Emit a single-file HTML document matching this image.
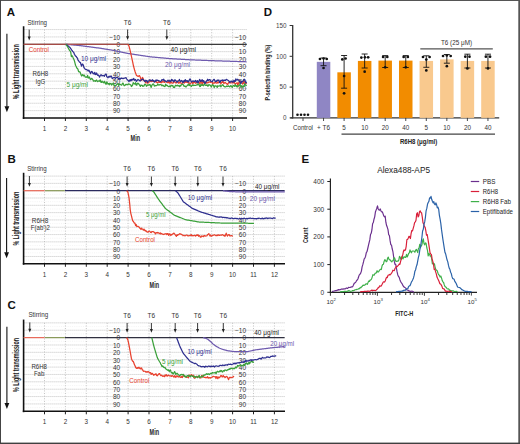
<!DOCTYPE html>
<html><head><meta charset="utf-8"><style>
html,body{margin:0;padding:0;background:#fff;}
svg{display:block;font-family:"Liberation Sans", sans-serif;}
</style></head><body>
<svg width="520" height="444" viewBox="0 0 520 444" font-family='"Liberation Sans", sans-serif'>
<rect x="0" y="0" width="520" height="444" fill="#fff"/>
<rect x="0" y="0" width="520" height="1" fill="#555"/>
<rect x="0" y="0" width="1" height="444" fill="#444"/>
<rect x="518.3" y="0" width="1.7" height="444" fill="#555"/>
<rect x="0" y="442.6" width="520" height="1.4" fill="#404040"/>
<text x="6.80" y="16.08" font-size="11.5" fill="#111" font-weight="bold">A</text>
<line x1="23.60" y1="29.56" x2="247.00" y2="29.56" stroke="#a8a8a8" stroke-width="0.7" stroke-dasharray="1 1"/>
<line x1="23.60" y1="36.93" x2="247.00" y2="36.93" stroke="#a8a8a8" stroke-width="0.7" stroke-dasharray="1 1"/>
<line x1="23.60" y1="44.30" x2="247.00" y2="44.30" stroke="#a8a8a8" stroke-width="0.7" stroke-dasharray="1 1"/>
<line x1="23.60" y1="51.67" x2="247.00" y2="51.67" stroke="#a8a8a8" stroke-width="0.7" stroke-dasharray="1 1"/>
<line x1="23.60" y1="59.04" x2="247.00" y2="59.04" stroke="#a8a8a8" stroke-width="0.7" stroke-dasharray="1 1"/>
<line x1="23.60" y1="66.41" x2="247.00" y2="66.41" stroke="#a8a8a8" stroke-width="0.7" stroke-dasharray="1 1"/>
<line x1="23.60" y1="73.78" x2="247.00" y2="73.78" stroke="#a8a8a8" stroke-width="0.7" stroke-dasharray="1 1"/>
<line x1="23.60" y1="81.15" x2="247.00" y2="81.15" stroke="#a8a8a8" stroke-width="0.7" stroke-dasharray="1 1"/>
<line x1="23.60" y1="88.52" x2="247.00" y2="88.52" stroke="#a8a8a8" stroke-width="0.7" stroke-dasharray="1 1"/>
<line x1="23.60" y1="95.89" x2="247.00" y2="95.89" stroke="#a8a8a8" stroke-width="0.7" stroke-dasharray="1 1"/>
<line x1="23.60" y1="103.26" x2="247.00" y2="103.26" stroke="#a8a8a8" stroke-width="0.7" stroke-dasharray="1 1"/>
<line x1="23.60" y1="110.63" x2="247.00" y2="110.63" stroke="#a8a8a8" stroke-width="0.7" stroke-dasharray="1 1"/>
<line x1="23.60" y1="33.24" x2="247.00" y2="33.24" stroke="#ececec" stroke-width="0.6" stroke-dasharray="1 1.2"/>
<line x1="23.60" y1="40.61" x2="247.00" y2="40.61" stroke="#ececec" stroke-width="0.6" stroke-dasharray="1 1.2"/>
<line x1="23.60" y1="47.98" x2="247.00" y2="47.98" stroke="#ececec" stroke-width="0.6" stroke-dasharray="1 1.2"/>
<line x1="23.60" y1="55.35" x2="247.00" y2="55.35" stroke="#ececec" stroke-width="0.6" stroke-dasharray="1 1.2"/>
<line x1="23.60" y1="62.72" x2="247.00" y2="62.72" stroke="#ececec" stroke-width="0.6" stroke-dasharray="1 1.2"/>
<line x1="23.60" y1="70.09" x2="247.00" y2="70.09" stroke="#ececec" stroke-width="0.6" stroke-dasharray="1 1.2"/>
<line x1="23.60" y1="77.47" x2="247.00" y2="77.47" stroke="#ececec" stroke-width="0.6" stroke-dasharray="1 1.2"/>
<line x1="23.60" y1="84.83" x2="247.00" y2="84.83" stroke="#ececec" stroke-width="0.6" stroke-dasharray="1 1.2"/>
<line x1="23.60" y1="92.20" x2="247.00" y2="92.20" stroke="#ececec" stroke-width="0.6" stroke-dasharray="1 1.2"/>
<line x1="23.60" y1="99.57" x2="247.00" y2="99.57" stroke="#ececec" stroke-width="0.6" stroke-dasharray="1 1.2"/>
<line x1="23.60" y1="106.94" x2="247.00" y2="106.94" stroke="#ececec" stroke-width="0.6" stroke-dasharray="1 1.2"/>
<line x1="23.60" y1="114.31" x2="247.00" y2="114.31" stroke="#ececec" stroke-width="0.6" stroke-dasharray="1 1.2"/>
<line x1="44.50" y1="29.56" x2="44.50" y2="118.00" stroke="#b4b4b4" stroke-width="0.8" stroke-dasharray="1 1.6"/>
<line x1="44.50" y1="118.00" x2="44.50" y2="121.00" stroke="#222" stroke-width="1"/>
<text x="44.50" y="130.74" font-size="6.3" fill="#333" text-anchor="middle">1</text>
<line x1="65.40" y1="29.56" x2="65.40" y2="118.00" stroke="#b4b4b4" stroke-width="0.8" stroke-dasharray="1 1.6"/>
<line x1="65.40" y1="118.00" x2="65.40" y2="121.00" stroke="#222" stroke-width="1"/>
<text x="65.40" y="130.74" font-size="6.3" fill="#333" text-anchor="middle">2</text>
<line x1="86.30" y1="29.56" x2="86.30" y2="118.00" stroke="#b4b4b4" stroke-width="0.8" stroke-dasharray="1 1.6"/>
<line x1="86.30" y1="118.00" x2="86.30" y2="121.00" stroke="#222" stroke-width="1"/>
<text x="86.30" y="130.74" font-size="6.3" fill="#333" text-anchor="middle">3</text>
<line x1="107.20" y1="29.56" x2="107.20" y2="118.00" stroke="#b4b4b4" stroke-width="0.8" stroke-dasharray="1 1.6"/>
<line x1="107.20" y1="118.00" x2="107.20" y2="121.00" stroke="#222" stroke-width="1"/>
<text x="107.20" y="130.74" font-size="6.3" fill="#333" text-anchor="middle">4</text>
<line x1="128.10" y1="29.56" x2="128.10" y2="118.00" stroke="#b4b4b4" stroke-width="0.8" stroke-dasharray="1 1.6"/>
<line x1="128.10" y1="118.00" x2="128.10" y2="121.00" stroke="#222" stroke-width="1"/>
<text x="128.10" y="130.74" font-size="6.3" fill="#333" text-anchor="middle">5</text>
<line x1="149.00" y1="29.56" x2="149.00" y2="118.00" stroke="#b4b4b4" stroke-width="0.8" stroke-dasharray="1 1.6"/>
<line x1="149.00" y1="118.00" x2="149.00" y2="121.00" stroke="#222" stroke-width="1"/>
<text x="149.00" y="130.74" font-size="6.3" fill="#333" text-anchor="middle">6</text>
<line x1="169.90" y1="29.56" x2="169.90" y2="118.00" stroke="#b4b4b4" stroke-width="0.8" stroke-dasharray="1 1.6"/>
<line x1="169.90" y1="118.00" x2="169.90" y2="121.00" stroke="#222" stroke-width="1"/>
<text x="169.90" y="130.74" font-size="6.3" fill="#333" text-anchor="middle">7</text>
<line x1="190.80" y1="29.56" x2="190.80" y2="118.00" stroke="#b4b4b4" stroke-width="0.8" stroke-dasharray="1 1.6"/>
<line x1="190.80" y1="118.00" x2="190.80" y2="121.00" stroke="#222" stroke-width="1"/>
<text x="190.80" y="130.74" font-size="6.3" fill="#333" text-anchor="middle">8</text>
<line x1="211.70" y1="29.56" x2="211.70" y2="118.00" stroke="#b4b4b4" stroke-width="0.8" stroke-dasharray="1 1.6"/>
<line x1="211.70" y1="118.00" x2="211.70" y2="121.00" stroke="#222" stroke-width="1"/>
<text x="211.70" y="130.74" font-size="6.3" fill="#333" text-anchor="middle">9</text>
<line x1="232.60" y1="29.56" x2="232.60" y2="118.00" stroke="#b4b4b4" stroke-width="0.8" stroke-dasharray="1 1.6"/>
<line x1="232.60" y1="118.00" x2="232.60" y2="121.00" stroke="#222" stroke-width="1"/>
<text x="232.60" y="130.74" font-size="6.3" fill="#333" text-anchor="middle">10</text>
<line x1="23.60" y1="26.26" x2="23.60" y2="118.90" stroke="#111" stroke-width="1.6"/>
<line x1="22.80" y1="118.00" x2="247.00" y2="118.00" stroke="#111" stroke-width="1.6"/>
<text x="120.20" y="39.74" font-size="6.5" fill="#333" text-anchor="end">&#8722;10</text>
<text x="246.00" y="39.74" font-size="6.5" fill="#333" text-anchor="end">&#8722;10</text>
<text x="120.20" y="47.11" font-size="6.5" fill="#333" text-anchor="end">0</text>
<text x="246.00" y="47.11" font-size="6.5" fill="#333" text-anchor="end">0</text>
<text x="120.20" y="54.48" font-size="6.5" fill="#333" text-anchor="end">10</text>
<text x="246.00" y="54.48" font-size="6.5" fill="#333" text-anchor="end">10</text>
<text x="120.20" y="61.85" font-size="6.5" fill="#333" text-anchor="end">20</text>
<text x="246.00" y="61.85" font-size="6.5" fill="#333" text-anchor="end">20</text>
<text x="120.20" y="69.22" font-size="6.5" fill="#333" text-anchor="end">30</text>
<text x="246.00" y="69.22" font-size="6.5" fill="#333" text-anchor="end">30</text>
<text x="120.20" y="76.59" font-size="6.5" fill="#333" text-anchor="end">40</text>
<text x="246.00" y="76.59" font-size="6.5" fill="#333" text-anchor="end">40</text>
<text x="120.20" y="83.96" font-size="6.5" fill="#333" text-anchor="end">50</text>
<text x="246.00" y="83.96" font-size="6.5" fill="#333" text-anchor="end">50</text>
<text x="120.20" y="91.33" font-size="6.5" fill="#333" text-anchor="end">60</text>
<text x="246.00" y="91.33" font-size="6.5" fill="#333" text-anchor="end">60</text>
<text x="120.20" y="98.70" font-size="6.5" fill="#333" text-anchor="end">70</text>
<text x="246.00" y="98.70" font-size="6.5" fill="#333" text-anchor="end">70</text>
<text x="120.20" y="106.07" font-size="6.5" fill="#333" text-anchor="end">80</text>
<text x="246.00" y="106.07" font-size="6.5" fill="#333" text-anchor="end">80</text>
<text x="120.20" y="113.44" font-size="6.5" fill="#333" text-anchor="end">90</text>
<text x="246.00" y="113.44" font-size="6.5" fill="#333" text-anchor="end">90</text>
<text x="27.50" y="24.84" font-size="6.3" fill="#333" textLength="19.5" lengthAdjust="spacingAndGlyphs">Stirring</text>
<line x1="29.20" y1="29.60" x2="29.20" y2="37.10" stroke="#222" stroke-width="0.9"/>
<polygon points="27.70,36.60 30.70,36.60 29.20,40.40" fill="#222"/>
<text x="127.60" y="24.91" font-size="6.5" fill="#333" text-anchor="middle">T6</text>
<line x1="127.60" y1="29.50" x2="127.60" y2="36.70" stroke="#222" stroke-width="0.9"/>
<polygon points="126.10,36.20 129.10,36.20 127.60,40.00" fill="#222"/>
<text x="166.80" y="24.91" font-size="6.5" fill="#333" text-anchor="middle">T6</text>
<line x1="166.80" y1="29.50" x2="166.80" y2="36.70" stroke="#222" stroke-width="0.9"/>
<polygon points="165.30,36.20 168.30,36.20 166.80,40.00" fill="#222"/>
<line x1="6.90" y1="33.70" x2="6.90" y2="106.70" stroke="#111" stroke-width="1.1"/>
<polygon points="4.50,106.20 9.30,106.20 6.90,112.20" fill="#111"/>
<text x="0" y="3.05" font-size="8.6" fill="#222" text-anchor="middle" font-weight="bold" textLength="55" lengthAdjust="spacingAndGlyphs" transform="translate(16.0,71.8) rotate(-90)">% Light transmission</text>
<polyline points="23.60,44.30 24.20,44.30 24.80,44.30 25.40,44.30 26.00,44.30 26.60,44.30 27.20,44.30 27.80,44.30 28.40,44.30 29.00,44.30 29.60,44.30 30.20,44.30 30.80,44.30 31.40,44.30 32.00,44.30 32.60,44.30 33.20,44.30 33.80,44.30 34.40,44.30 35.00,44.30 35.60,44.30 36.20,44.30 36.80,44.30 37.40,44.30 38.00,44.30 38.60,44.30 39.20,44.30 39.80,44.30 40.40,44.30 41.00,44.30 41.60,44.30 42.20,44.30 42.80,44.30 43.40,44.30 44.00,44.30 44.60,44.30 45.20,44.30 45.80,44.30 46.40,44.30 47.00,44.30 47.60,44.30 48.20,44.30 48.80,44.30 49.40,44.30 50.00,44.30 50.60,44.30 51.20,44.30 51.80,44.30 52.40,44.30 53.00,44.30 53.60,44.30 54.20,44.30 54.80,44.30 55.40,44.30 56.00,44.30 56.60,44.30 57.20,44.30 57.80,44.30 58.40,44.30 59.00,44.30 59.60,44.30 60.20,44.30 60.80,44.30 61.40,44.30 62.00,44.30 62.60,44.30 63.20,44.30 63.80,44.30 64.40,44.30 65.00,44.30 65.60,44.30 66.20,44.30 66.80,44.30 67.40,44.30 68.00,44.30 68.60,44.30 69.20,44.30 69.80,44.30 70.40,44.30 71.00,44.30 71.60,44.30 72.20,44.30 72.80,44.30 73.40,44.30 74.00,44.30 74.60,44.30 75.20,44.30 75.80,44.30 76.40,44.30 77.00,44.30 77.60,44.30 78.20,44.30 78.80,44.30 79.40,44.30 80.00,44.30 80.60,44.30 81.20,44.30 81.80,44.30 82.40,44.30 83.00,44.30 83.60,44.30 84.20,44.30 84.80,44.30 85.40,44.30 86.00,44.30 86.60,44.30 87.20,44.30 87.80,44.30 88.40,44.30 89.00,44.30 89.60,44.30 90.20,44.30 90.80,44.30 91.40,44.30 92.00,44.30 92.60,44.30 93.20,44.30 93.80,44.30 94.40,44.30 95.00,44.30 95.60,44.30 96.20,44.30 96.80,44.30 97.40,44.30 98.00,44.30 98.60,44.30 99.20,44.30 99.80,44.30 100.40,44.30 101.00,44.30 101.60,44.30 102.20,44.30 102.80,44.30 103.40,44.30 104.00,44.30 104.60,44.30 105.20,44.30 105.80,44.30 106.40,44.30 107.00,44.30 107.60,44.30 108.20,44.30 108.80,44.30 109.40,44.30 110.00,44.30 110.60,44.30 111.20,44.30 111.80,44.30 112.40,44.30 113.00,44.30 113.60,44.30 114.20,44.30 114.80,44.30 115.40,44.30 116.00,44.30 116.60,44.30 117.20,44.30 117.80,44.30 118.40,44.30 119.00,44.30 119.60,44.30 120.20,44.30 120.80,44.30 121.40,44.30 122.00,44.30 122.60,44.30 123.20,44.30 123.80,44.30 124.40,44.30 125.00,44.30 125.60,44.30 126.20,44.30 126.80,44.30 127.40,44.30 128.00,44.30 128.60,44.30 129.20,44.30 129.80,44.30 130.40,44.30 131.00,44.30 131.60,44.30 132.20,44.30 132.80,44.30 133.40,44.30 134.00,44.30 134.60,44.30 135.20,44.30 135.80,44.30 136.40,44.30 137.00,44.30 137.60,44.30 138.20,44.30 138.80,44.30 139.40,44.30 140.00,44.30 140.60,44.30 141.20,44.30 141.80,44.30 142.40,44.30 143.00,44.30 143.60,44.30 144.20,44.30 144.80,44.30 145.40,44.30 146.00,44.30 146.60,44.30 147.20,44.30 147.80,44.30 148.40,44.30 149.00,44.30 149.60,44.30 150.20,44.30 150.80,44.30 151.40,44.30 152.00,44.30 152.60,44.30 153.20,44.30 153.80,44.30 154.40,44.30 155.00,44.30 155.60,44.30 156.20,44.30 156.80,44.30 157.40,44.30 158.00,44.30 158.60,44.30 159.20,44.30 159.80,44.30 160.40,44.30 161.00,44.30 161.60,44.30 162.20,44.30 162.80,44.30 163.40,44.30 164.00,44.30 164.60,44.30 165.20,44.30 165.80,44.30 166.40,44.30 167.00,44.30 167.60,44.30 168.20,44.30 168.80,44.30 169.40,44.30 170.00,44.30 170.60,44.30 171.20,44.30 171.80,44.30 172.40,44.30 173.00,44.30 173.60,44.30 174.20,44.30 174.80,44.30 175.40,44.30 176.00,44.30 176.60,44.30 177.20,44.30 177.80,44.30 178.40,44.30 179.00,44.30 179.60,44.30 180.20,44.30 180.80,44.30 181.40,44.30 182.00,44.30 182.60,44.30 183.20,44.30 183.80,44.30 184.40,44.30 185.00,44.30 185.60,44.30 186.20,44.30 186.80,44.30 187.40,44.30 188.00,44.30 188.60,44.30 189.20,44.30 189.80,44.30 190.40,44.30 191.00,44.30 191.60,44.30 192.20,44.30 192.80,44.30 193.40,44.30 194.00,44.30 194.60,44.30 195.20,44.30 195.80,44.30 196.40,44.30 197.00,44.30 197.60,44.30 198.20,44.30 198.80,44.30 199.40,44.30 200.00,44.30 200.60,44.30 201.20,44.30 201.80,44.30 202.40,44.30 203.00,44.30 203.60,44.30 204.20,44.30 204.80,44.30 205.40,44.30 206.00,44.30 206.60,44.30 207.20,44.30 207.80,44.30 208.40,44.30 209.00,44.30 209.60,44.30 210.20,44.30 210.80,44.30 211.40,44.30 212.00,44.30 212.60,44.30 213.20,44.30 213.80,44.30 214.40,44.30 215.00,44.30 215.60,44.30 216.20,44.30 216.80,44.30 217.40,44.30 218.00,44.30 218.60,44.30 219.20,44.30 219.80,44.30 220.40,44.30 221.00,44.30 221.60,44.30 222.20,44.30 222.80,44.30 223.40,44.30 224.00,44.30 224.60,44.30 225.20,44.30 225.80,44.30 226.40,44.30 227.00,44.30 227.60,44.30 228.20,44.30 228.80,44.30 229.40,44.30 230.00,44.30 230.60,44.30 231.20,44.30 231.80,44.30 232.40,44.30 233.00,44.30 233.60,44.30 234.20,44.30 234.80,44.30 235.40,44.30 236.00,44.30 236.60,44.30 237.20,44.30 237.80,44.30 238.40,44.30 239.00,44.30 239.60,44.30 240.20,44.30 240.80,44.30 241.40,44.30 242.00,44.30 242.60,44.30 243.20,44.30 243.80,44.30 244.40,44.30 245.00,44.30 245.60,44.30 246.20,44.30 246.80,44.30" fill="none" stroke="#3a3a3a" stroke-width="1.2" stroke-linejoin="round"/>
<polyline points="66.00,44.30 66.60,44.36 67.20,44.41 67.80,44.47 68.40,44.52 69.00,44.58 69.60,44.63 70.20,44.69 70.80,44.75 71.40,44.80 72.00,44.86 72.60,44.91 73.20,44.97 73.80,45.02 74.40,45.08 75.00,45.14 75.60,45.19 76.20,45.25 76.80,45.30 77.40,45.36 78.00,45.41 78.60,45.47 79.20,45.53 79.80,45.58 80.40,45.65 81.00,45.73 81.60,45.81 82.20,45.89 82.80,45.96 83.40,46.04 84.00,46.12 84.60,46.20 85.20,46.28 85.80,46.35 86.40,46.43 87.00,46.51 87.60,46.59 88.20,46.67 88.80,46.74 89.40,46.82 90.00,46.90 90.60,46.98 91.20,47.06 91.80,47.13 92.40,47.21 93.00,47.29 93.60,47.37 94.20,47.45 94.80,47.52 95.40,47.60 96.00,47.68 96.60,47.76 97.20,47.84 97.80,47.91 98.40,47.99 99.00,48.07 99.60,48.15 100.20,48.23 100.80,48.33 101.40,48.43 102.00,48.53 102.60,48.62 103.20,48.72 103.80,48.82 104.40,48.92 105.00,49.01 105.60,49.11 106.20,49.21 106.80,49.31 107.40,49.41 108.00,49.50 108.60,49.60 109.20,49.70 109.80,49.80 110.40,49.89 111.00,49.99 111.60,50.09 112.20,50.19 112.80,50.29 113.40,50.38 114.00,50.51 114.60,50.64 115.20,50.77 115.80,50.89 116.40,51.02 117.00,51.15 117.60,51.28 118.20,51.41 118.80,51.54 119.40,51.67 120.00,51.80 120.60,51.93 121.20,52.05 121.80,52.18 122.40,52.31 123.00,52.44 123.60,52.57 124.20,52.70 124.80,52.83 125.40,52.96 126.00,53.09 126.60,53.21 127.20,53.33 127.80,53.42 128.40,53.51 129.00,53.60 129.60,53.70 130.20,53.79 130.80,53.88 131.40,53.97 132.00,54.06 132.60,54.15 133.20,54.24 133.80,54.33 134.40,54.43 135.00,54.52 135.60,54.61 136.20,54.70 136.80,54.79 137.40,54.88 138.00,54.97 138.60,55.07 139.20,55.16 139.80,55.25 140.40,55.34 141.00,55.43 141.60,55.52 142.20,55.61 142.80,55.70 143.40,55.80 144.00,55.89 144.60,55.98 145.20,56.07 145.80,56.16 146.40,56.25 147.00,56.34 147.60,56.43 148.20,56.53 148.80,56.62 149.40,56.71 150.00,56.80 150.60,56.85 151.20,56.91 151.80,56.96 152.40,57.02 153.00,57.07 153.60,57.12 154.20,57.18 154.80,57.23 155.40,57.29 156.00,57.34 156.60,57.39 157.20,57.45 157.80,57.50 158.40,57.56 159.00,57.61 159.60,57.66 160.20,57.72 160.80,57.77 161.40,57.83 162.00,57.88 162.60,57.93 163.20,57.99 163.80,58.04 164.40,58.10 165.00,58.15 165.60,58.20 166.20,58.26 166.80,58.31 167.40,58.37 168.00,58.42 168.60,58.47 169.20,58.53 169.80,58.58 170.40,58.62 171.00,58.66 171.60,58.70 172.20,58.73 172.80,58.77 173.40,58.80 174.00,58.84 174.60,58.88 175.20,58.91 175.80,58.95 176.40,58.98 177.00,59.02 177.60,59.06 178.20,59.09 178.80,59.13 179.40,59.16 180.00,59.20 180.60,59.24 181.20,59.27 181.80,59.31 182.40,59.34 183.00,59.38 183.60,59.42 184.20,59.45 184.80,59.49 185.40,59.52 186.00,59.56 186.60,59.60 187.20,59.63 187.80,59.67 188.40,59.70 189.00,59.74 189.60,59.78 190.20,59.81 190.80,59.83 191.40,59.86 192.00,59.88 192.60,59.90 193.20,59.93 193.80,59.95 194.40,59.98 195.00,60.00 195.60,60.02 196.20,60.05 196.80,60.07 197.40,60.10 198.00,60.12 198.60,60.14 199.20,60.17 199.80,60.19 200.40,60.22 201.00,60.24 201.60,60.26 202.20,60.29 202.80,60.31 203.40,60.34 204.00,60.36 204.60,60.38 205.20,60.41 205.80,60.43 206.40,60.46 207.00,60.48 207.60,60.50 208.20,60.53 208.80,60.55 209.40,60.58 210.00,60.60 210.60,60.62 211.20,60.64 211.80,60.66 212.40,60.68 213.00,60.70 213.60,60.72 214.20,60.74 214.80,60.76 215.40,60.78 216.00,60.79 216.60,60.81 217.20,60.83 217.80,60.85 218.40,60.87 219.00,60.89 219.60,60.91 220.20,60.93 220.80,60.95 221.40,60.97 222.00,60.99 222.60,61.01 223.20,61.03 223.80,61.05 224.40,61.07 225.00,61.09 225.60,61.11 226.20,61.13 226.80,61.14 227.40,61.16 228.00,61.18 228.60,61.20 229.20,61.22 229.80,61.24 230.40,61.26 231.00,61.28 231.60,61.30 232.20,61.32 232.80,61.34 233.40,61.36 234.00,61.38 234.60,61.40 235.20,61.42 235.80,61.44 236.40,61.46 237.00,61.48 237.60,61.50 238.20,61.51 238.80,61.53 239.40,61.55 240.00,61.57 240.60,61.59 241.20,61.61 241.80,61.63 242.40,61.65 243.00,61.67 243.60,61.69 244.20,61.71 244.80,61.73 245.40,61.75 246.00,61.77 246.60,61.79" fill="none" stroke="#6e5aae" stroke-width="1.25" stroke-linejoin="round"/>
<polyline points="23.60,44.30 24.20,44.30 24.80,44.30 25.40,44.30 26.00,44.30 26.60,44.30 27.20,44.30 27.80,44.30 28.40,44.30 29.00,44.30 29.60,44.30 30.20,44.30 30.80,44.30 31.40,44.30 32.00,44.30 32.60,44.30 33.20,44.30 33.80,44.30 34.40,44.30 35.00,44.30 35.60,44.30 36.20,44.30 36.80,44.30 37.40,44.30 38.00,44.30 38.60,44.30 39.20,44.30 39.80,44.30 40.40,44.30 41.00,44.30 41.60,44.30 42.20,44.30 42.80,44.30 43.40,44.30 44.00,44.30 44.60,44.30 45.20,44.30 45.80,44.30 46.40,44.30 47.00,44.30 47.60,44.30 48.20,44.30 48.80,44.30 49.40,44.30 50.00,44.30 50.60,44.30 51.20,44.30 51.80,44.30 52.40,44.30 53.00,44.30 53.60,44.30 54.20,44.30 54.80,44.30 55.40,44.30 56.00,44.30 56.60,44.30 57.20,44.30 57.80,44.30 58.40,44.30 59.00,44.30 59.60,44.30 60.20,44.30 60.80,44.30 61.40,44.30 62.00,44.30 62.60,44.30 63.20,44.30 63.80,44.30 64.40,44.30 65.00,44.30 65.60,44.30 66.20,44.30 66.80,44.30 67.40,44.30 68.00,44.30 68.60,44.30 69.20,44.30 69.80,44.30 70.40,44.30 71.00,44.30 71.60,44.30 72.20,44.30 72.80,44.30 73.40,44.30 74.00,44.30 74.60,44.30 75.20,44.30 75.80,44.30 76.40,44.30 77.00,44.30 77.60,44.30 78.20,44.30 78.80,44.30 79.40,44.30 80.00,44.30 80.60,44.30 81.20,44.30 81.80,44.30 82.40,44.30 83.00,44.30 83.60,44.30 84.20,44.30 84.80,44.30 85.40,44.30 86.00,44.30 86.60,44.30 87.20,44.30 87.80,44.30 88.40,44.30 89.00,44.30 89.60,44.30 90.20,44.30 90.80,44.30 91.40,44.30 92.00,44.30 92.60,44.30 93.20,44.30 93.80,44.30 94.40,44.30 95.00,44.30 95.60,44.30 96.20,44.30 96.80,44.30 97.40,44.30 98.00,44.30 98.60,44.30 99.20,44.30 99.80,44.30 100.40,44.30 101.00,44.30 101.60,44.30 102.20,44.30 102.80,44.30 103.40,44.30 104.00,44.30 104.60,44.30 105.20,44.30 105.80,44.30 106.40,44.30 107.00,44.30 107.60,44.30 108.20,44.30 108.80,44.30 109.40,44.30 110.00,44.30 110.60,44.30 111.20,44.30 111.80,44.30 112.40,44.30 113.00,44.30 113.60,44.30 114.20,44.30 114.80,44.30 115.40,44.30 116.00,44.30 116.60,44.30 117.20,44.30 117.80,44.30 118.40,44.30 119.00,44.30 119.60,44.30 120.20,44.30 120.80,44.30 121.40,44.30 122.00,44.30 122.60,44.30 123.20,44.30 123.80,44.30 124.40,44.30 125.00,44.30 125.60,44.30 126.20,44.30 126.80,44.30 127.40,44.30 128.00,44.30" fill="none" stroke="#c8504a" stroke-width="1.125" stroke-linejoin="round"/>
<polyline points="128.00,44.30 128.60,45.32 129.20,46.80 129.80,49.20 130.40,51.60 131.00,54.33 131.60,57.13 132.20,59.93 132.80,62.73 133.40,65.53 134.00,67.83 134.60,70.03 135.20,72.03 135.80,73.63 136.40,75.23 137.00,75.83 137.60,76.23 138.20,76.37 138.80,75.97 139.40,75.57 140.00,76.67 140.60,78.07 141.20,80.34 141.80,80.09 142.40,77.44 143.00,78.14 143.60,80.06 144.20,80.65 144.80,81.52 145.40,82.12 146.00,83.16 146.60,80.94 147.20,81.44 147.80,83.38 148.40,82.67 149.00,82.24 149.60,81.07 150.20,80.26 150.80,81.60 151.40,81.66 152.00,80.65 152.60,81.00 153.20,81.47 153.80,81.03 154.40,81.64 155.00,81.97 155.60,81.88 156.20,81.64 156.80,82.54 157.40,82.91 158.00,82.30 158.60,81.55 159.20,82.45 159.80,81.96 160.40,82.57 161.00,81.56 161.60,82.74 162.20,82.11 162.80,81.10 163.40,81.76 164.00,82.30 164.60,82.35 165.20,81.33 165.80,81.26 166.40,82.24 167.00,82.07 167.60,82.65 168.20,82.81 168.80,81.25 169.40,82.61 170.00,83.52 170.60,82.33 171.20,81.91 171.80,83.04 172.40,83.03 173.00,83.26 173.60,82.13 174.20,81.20 174.80,82.09 175.40,82.28 176.00,83.14 176.60,82.55 177.20,81.00 177.80,81.41 178.40,83.20 179.00,83.17 179.60,82.15 180.20,82.53 180.80,83.03 181.40,83.21 182.00,83.44 182.60,82.94 183.20,82.51 183.80,82.55 184.40,83.03 185.00,80.87 185.60,82.09 186.20,82.35 186.80,81.48 187.40,82.52 188.00,82.28 188.60,83.21 189.20,82.79 189.80,83.39 190.40,83.85 191.00,83.02 191.60,81.70 192.20,81.53 192.80,83.83 193.40,82.75 194.00,82.08 194.60,82.62 195.20,82.68 195.80,83.35 196.40,82.86 197.00,82.56 197.60,82.17 198.20,82.76 198.80,82.02 199.40,83.34 200.00,83.82 200.60,81.25 201.20,80.47 201.80,83.24 202.40,84.78 203.00,82.11 203.60,81.59 204.20,82.84 204.80,82.03 205.40,82.09 206.00,82.45 206.60,83.05 207.20,82.55 207.80,82.87 208.40,82.50 209.00,81.95 209.60,82.17 210.20,81.91 210.80,82.40 211.40,81.63 212.00,81.91 212.60,83.79 213.20,82.99 213.80,82.82 214.40,83.13 215.00,82.49 215.60,82.60 216.20,83.17 216.80,82.91 217.40,82.03 218.00,83.20 218.60,82.28 219.20,81.66 219.80,81.81 220.40,82.63 221.00,83.92 221.60,82.17 222.20,82.38 222.80,81.08 223.40,82.62 224.00,83.56 224.60,82.70 225.20,82.33 225.80,83.07 226.40,83.62 227.00,83.91 227.60,84.69 228.20,83.30 228.80,82.40 229.40,82.66 230.00,82.83 230.60,82.97 231.20,82.92 231.80,82.74 232.40,81.68 233.00,83.20 233.60,82.37 234.20,81.94 234.80,83.48 235.40,84.23 236.00,83.61 236.60,82.99 237.20,82.70 237.80,85.34 238.40,84.00 239.00,82.01 239.60,82.11 240.20,82.61 240.80,81.70 241.40,82.74 242.00,82.83 242.60,84.09 243.20,83.52 243.80,80.88 244.40,82.24 245.00,81.84 245.60,83.66 246.20,83.43 246.80,83.49" fill="none" stroke="#e8422f" stroke-width="1.25" stroke-linejoin="round"/>
<polyline points="66.00,44.30 66.60,44.78 67.20,45.26 67.80,45.74 68.40,46.22 69.00,46.70 69.60,47.18 70.20,47.80 70.80,48.70 71.40,49.60 72.00,50.50 72.60,51.26 73.20,51.83 73.80,52.56 74.40,54.32 75.00,55.10 75.60,56.23 76.20,56.41 76.80,57.54 77.40,58.02 78.00,60.08 78.60,60.77 79.20,61.66 79.80,62.32 80.40,62.29 81.00,64.60 81.60,66.15 82.20,64.08 82.80,64.21 83.40,65.39 84.00,67.74 84.60,68.21 85.20,69.29 85.80,69.54 86.40,69.53 87.00,69.89 87.60,70.18 88.20,71.08 88.80,70.19 89.40,71.01 90.00,72.45 90.60,73.60 91.20,71.85 91.80,71.39 92.40,72.23 93.00,73.57 93.60,73.30 94.20,73.99 94.80,72.31 95.40,74.42 96.00,74.62 96.60,73.00 97.20,74.25 97.80,75.40 98.40,74.99 99.00,75.98 99.60,77.10 100.20,75.67 100.80,74.91 101.40,74.79 102.00,75.85 102.60,75.51 103.20,75.49 103.80,75.80 104.40,76.25 105.00,74.97 105.60,74.21 106.20,74.13 106.80,76.93 107.40,77.00 108.00,77.84 108.60,76.80 109.20,76.24 109.80,77.14 110.40,76.79 111.00,75.87 111.60,76.56 112.20,78.70 112.80,78.11 113.40,77.90 114.00,77.36 114.60,77.28 115.20,78.46 115.80,77.90 116.40,77.36 117.00,77.70 117.60,77.43 118.20,78.45 118.80,79.15 119.40,78.14 120.00,79.38 120.60,78.24 121.20,78.44 121.80,77.94 122.40,78.39 123.00,78.71 123.60,78.37 124.20,78.13 124.80,78.15 125.40,77.96 126.00,77.61 126.60,78.76 127.20,79.71 127.80,80.28 128.40,80.54 129.00,81.70 129.60,80.16 130.20,79.61 130.80,80.97 131.40,79.36 132.00,80.25 132.60,79.27 133.20,79.64 133.80,78.47 134.40,80.31 135.00,79.82 135.60,79.46 136.20,81.41 136.80,81.02 137.40,80.14 138.00,79.51 138.60,79.97 139.20,80.18 139.80,80.96 140.40,80.95 141.00,79.78 141.60,79.66 142.20,79.58 142.80,79.06 143.40,79.68 144.00,80.41 144.60,81.30 145.20,81.62 145.80,80.22 146.40,80.84 147.00,80.73 147.60,82.32 148.20,81.12 148.80,80.98 149.40,79.92 150.00,79.99 150.60,80.76 151.20,80.58 151.80,80.75 152.40,79.68 153.00,80.93 153.60,80.49 154.20,82.05 154.80,81.09 155.40,81.44 156.00,79.93 156.60,80.78 157.20,80.07 157.80,80.27 158.40,80.71 159.00,80.62 159.60,81.14 160.20,81.64 160.80,81.51 161.40,80.65 162.00,79.54 162.60,79.90 163.20,80.16 163.80,79.17 164.40,81.07 165.00,80.75 165.60,80.78 166.20,81.74 166.80,81.64 167.40,81.00 168.00,80.13 168.60,81.02 169.20,81.07 169.80,80.39 170.40,81.69 171.00,81.15 171.60,79.35 172.20,80.41 172.80,80.06 173.40,81.77 174.00,81.58 174.60,79.96 175.20,79.98 175.80,80.79 176.40,81.00 177.00,82.28 177.60,81.76 178.20,80.92 178.80,80.99 179.40,79.37 180.00,80.97 180.60,81.68 181.20,80.81 181.80,80.40 182.40,81.63 183.00,82.72 183.60,81.26 184.20,80.30 184.80,81.62 185.40,79.72 186.00,80.93 186.60,80.72 187.20,81.48 187.80,80.65 188.40,81.97 189.00,81.14 189.60,79.21 190.20,78.94 190.80,80.58 191.40,82.02 192.00,81.32 192.60,81.01 193.20,80.92 193.80,81.63 194.40,81.48 195.00,81.11 195.60,80.43 196.20,82.06 196.80,82.12 197.40,80.56 198.00,82.83 198.60,81.93 199.20,80.38 199.80,79.44 200.40,81.32 201.00,81.49 201.60,80.29 202.20,79.61 202.80,81.53 203.40,80.64 204.00,81.03 204.60,83.71 205.20,83.50 205.80,82.13 206.40,80.94 207.00,81.09 207.60,79.26 208.20,80.58 208.80,80.19 209.40,79.54 210.00,79.58 210.60,81.22 211.20,81.25 211.80,81.36 212.40,81.64 213.00,80.28 213.60,79.55 214.20,79.29 214.80,80.60 215.40,81.62 216.00,81.20 216.60,81.37 217.20,80.12 217.80,80.34 218.40,80.13 219.00,80.23 219.60,82.58 220.20,82.00 220.80,80.47 221.40,80.30 222.00,80.65 222.60,79.96 223.20,80.98 223.80,80.03 224.40,80.38 225.00,80.10 225.60,80.28 226.20,79.63 226.80,79.38 227.40,79.90 228.00,80.32 228.60,80.77 229.20,81.41 229.80,82.57 230.40,82.04 231.00,81.20 231.60,81.58 232.20,80.95 232.80,82.33 233.40,81.62 234.00,80.24 234.60,81.69 235.20,81.49 235.80,78.91 236.40,79.96 237.00,80.28 237.60,79.26 238.20,79.75 238.80,80.27 239.40,81.48 240.00,81.99 240.60,83.36 241.20,81.53 241.80,82.09 242.40,81.50 243.00,81.22 243.60,79.92 244.20,79.24 244.80,80.34 245.40,81.98 246.00,82.77 246.60,81.99" fill="none" stroke="#2e2f8f" stroke-width="1.25" stroke-linejoin="round"/>
<polyline points="66.00,44.30 66.60,45.26 67.20,46.22 67.80,47.18 68.40,48.25 69.00,49.37 69.60,50.50 70.20,50.91 70.80,52.58 71.40,56.55 72.00,55.72 72.60,56.40 73.20,57.99 73.80,59.31 74.40,60.74 75.00,63.09 75.60,65.52 76.20,66.49 76.80,68.10 77.40,68.33 78.00,69.53 78.60,71.62 79.20,71.81 79.80,71.75 80.40,72.91 81.00,74.77 81.60,75.99 82.20,74.72 82.80,74.89 83.40,75.92 84.00,74.98 84.60,75.67 85.20,77.03 85.80,77.22 86.40,77.18 87.00,77.27 87.60,75.45 88.20,78.02 88.80,77.24 89.40,76.96 90.00,78.86 90.60,79.53 91.20,78.71 91.80,78.35 92.40,79.32 93.00,79.89 93.60,81.16 94.20,80.95 94.80,80.71 95.40,81.32 96.00,80.42 96.60,80.03 97.20,81.34 97.80,81.65 98.40,81.05 99.00,80.79 99.60,81.22 100.20,79.87 100.80,82.19 101.40,82.39 102.00,81.05 102.60,82.08 103.20,82.01 103.80,82.95 104.40,81.29 105.00,82.20 105.60,84.02 106.20,84.23 106.80,81.89 107.40,82.90 108.00,83.79 108.60,83.61 109.20,84.85 109.80,83.26 110.40,83.87 111.00,83.47 111.60,85.09 112.20,84.33 112.80,83.60 113.40,83.09 114.00,85.60 114.60,85.49 115.20,85.46 115.80,85.70 116.40,85.00 117.00,84.06 117.60,83.81 118.20,84.24 118.80,85.62 119.40,83.85 120.00,84.18 120.60,84.61 121.20,85.13 121.80,85.15 122.40,83.54 123.00,83.07 123.60,84.60 124.20,85.80 124.80,85.49 125.40,84.81 126.00,84.33 126.60,84.60 127.20,84.40 127.80,84.85 128.40,83.80 129.00,84.20 129.60,84.23 130.20,84.63 130.80,84.85 131.40,86.50 132.00,85.99 132.60,85.20 133.20,82.58 133.80,83.37 134.40,83.70 135.00,84.14 135.60,82.65 136.20,85.07 136.80,85.22 137.40,83.31 138.00,83.23 138.60,83.64 139.20,84.53 139.80,85.48 140.40,86.41 141.00,84.99 141.60,85.33 142.20,85.32 142.80,86.42 143.40,86.01 144.00,85.96 144.60,84.22 145.20,84.45 145.80,84.55 146.40,86.28 147.00,85.85 147.60,84.91 148.20,84.82 148.80,85.41 149.40,84.59 150.00,84.48 150.60,85.98 151.20,87.42 151.80,85.45 152.40,84.59 153.00,83.99 153.60,84.08 154.20,85.68 154.80,86.14 155.40,85.55 156.00,85.63 156.60,85.52 157.20,85.20 157.80,84.00 158.40,84.70 159.00,85.22 159.60,84.63 160.20,84.66 160.80,84.52 161.40,85.08 162.00,85.95 162.60,85.15 163.20,85.31 163.80,86.14 164.40,86.37 165.00,86.54 165.60,84.08 166.20,85.64 166.80,85.16 167.40,85.57 168.00,86.32 168.60,86.64 169.20,86.49 169.80,86.01 170.40,86.73 171.00,85.43 171.60,85.39 172.20,85.96 172.80,85.49 173.40,87.32 174.00,87.06 174.60,87.43 175.20,85.73 175.80,85.14 176.40,85.64 177.00,85.98 177.60,85.15 178.20,85.66 178.80,85.79 179.40,86.69 180.00,85.38 180.60,86.10 181.20,84.94 181.80,84.41 182.40,84.48 183.00,84.37 183.60,85.57 184.20,86.40 184.80,85.92 185.40,86.33 186.00,87.02 186.60,86.04 187.20,85.65 187.80,85.01 188.40,84.23 189.00,85.53 189.60,84.28 190.20,85.74 190.80,85.82 191.40,86.45 192.00,85.51 192.60,84.88 193.20,85.57 193.80,85.09 194.40,85.28 195.00,85.51 195.60,85.40 196.20,85.21 196.80,84.77 197.40,84.85 198.00,83.69 198.60,84.82 199.20,84.72 199.80,86.51 200.40,86.48 201.00,84.18 201.60,85.31 202.20,85.30 202.80,84.77 203.40,85.75 204.00,84.97 204.60,83.97 205.20,85.02 205.80,85.43 206.40,85.43 207.00,84.69 207.60,86.02 208.20,86.12 208.80,84.65 209.40,84.83 210.00,85.32 210.60,85.44 211.20,87.02 211.80,85.93 212.40,84.67 213.00,84.77 213.60,85.85 214.20,87.52 214.80,85.92 215.40,85.80 216.00,86.09 216.60,86.11 217.20,87.46 217.80,85.75 218.40,86.21 219.00,86.04 219.60,86.00 220.20,85.10 220.80,86.92 221.40,85.89 222.00,85.51 222.60,84.76 223.20,85.00 223.80,86.20 224.40,86.75 225.00,86.71 225.60,86.97 226.20,86.52 226.80,86.00 227.40,86.51 228.00,86.33 228.60,85.86 229.20,86.53 229.80,86.96 230.40,86.08 231.00,85.59 231.60,86.60 232.20,87.41 232.80,85.88 233.40,85.59 234.00,85.82 234.60,86.41 235.20,84.48 235.80,85.93 236.40,86.67 237.00,85.55 237.60,86.95 238.20,86.37 238.80,85.43 239.40,85.56 240.00,84.41 240.60,85.34 241.20,87.04 241.80,85.68 242.40,87.15 243.00,86.22 243.60,86.61 244.20,85.60 244.80,83.81 245.40,84.94 246.00,85.64 246.60,84.87" fill="none" stroke="#3aa03a" stroke-width="1.25" stroke-linejoin="round"/>
<text x="28.80" y="52.11" font-size="6.5" fill="#e8422f" textLength="20.2" lengthAdjust="spacingAndGlyphs">Control</text>
<text x="81.00" y="61.11" font-size="6.5" fill="#2e2f8f" textLength="25" lengthAdjust="spacingAndGlyphs">10 &#956;g/ml</text>
<text x="66.50" y="86.51" font-size="6.5" fill="#3aa03a" textLength="21.5" lengthAdjust="spacingAndGlyphs">5 &#956;g/ml</text>
<text x="170.50" y="51.81" font-size="6.5" fill="#222" textLength="25.5" lengthAdjust="spacingAndGlyphs">40 &#956;g/ml</text>
<text x="165.00" y="67.31" font-size="6.5" fill="#6e5aae" textLength="25" lengthAdjust="spacingAndGlyphs">20 &#956;g/ml</text>
<text x="32.50" y="75.91" font-size="6.5" fill="#333" textLength="15.8" lengthAdjust="spacingAndGlyphs">R6H8</text>
<text x="35.60" y="83.71" font-size="6.5" fill="#333" textLength="9.6" lengthAdjust="spacingAndGlyphs">IgG</text>
<text x="130.60" y="141.21" font-size="8.2" fill="#222" font-weight="bold" textLength="9.4" lengthAdjust="spacingAndGlyphs">Min</text>
<text x="7.40" y="162.88" font-size="11.5" fill="#111" font-weight="bold">B</text>
<line x1="23.60" y1="176.08" x2="285.00" y2="176.08" stroke="#a8a8a8" stroke-width="0.7" stroke-dasharray="1 1"/>
<line x1="23.60" y1="183.39" x2="285.00" y2="183.39" stroke="#a8a8a8" stroke-width="0.7" stroke-dasharray="1 1"/>
<line x1="23.60" y1="190.70" x2="285.00" y2="190.70" stroke="#a8a8a8" stroke-width="0.7" stroke-dasharray="1 1"/>
<line x1="23.60" y1="198.01" x2="285.00" y2="198.01" stroke="#a8a8a8" stroke-width="0.7" stroke-dasharray="1 1"/>
<line x1="23.60" y1="205.32" x2="285.00" y2="205.32" stroke="#a8a8a8" stroke-width="0.7" stroke-dasharray="1 1"/>
<line x1="23.60" y1="212.63" x2="285.00" y2="212.63" stroke="#a8a8a8" stroke-width="0.7" stroke-dasharray="1 1"/>
<line x1="23.60" y1="219.94" x2="285.00" y2="219.94" stroke="#a8a8a8" stroke-width="0.7" stroke-dasharray="1 1"/>
<line x1="23.60" y1="227.25" x2="285.00" y2="227.25" stroke="#a8a8a8" stroke-width="0.7" stroke-dasharray="1 1"/>
<line x1="23.60" y1="234.56" x2="285.00" y2="234.56" stroke="#a8a8a8" stroke-width="0.7" stroke-dasharray="1 1"/>
<line x1="23.60" y1="241.87" x2="285.00" y2="241.87" stroke="#a8a8a8" stroke-width="0.7" stroke-dasharray="1 1"/>
<line x1="23.60" y1="249.18" x2="285.00" y2="249.18" stroke="#a8a8a8" stroke-width="0.7" stroke-dasharray="1 1"/>
<line x1="23.60" y1="256.49" x2="285.00" y2="256.49" stroke="#a8a8a8" stroke-width="0.7" stroke-dasharray="1 1"/>
<line x1="23.60" y1="179.73" x2="285.00" y2="179.73" stroke="#ececec" stroke-width="0.6" stroke-dasharray="1 1.2"/>
<line x1="23.60" y1="187.04" x2="285.00" y2="187.04" stroke="#ececec" stroke-width="0.6" stroke-dasharray="1 1.2"/>
<line x1="23.60" y1="194.35" x2="285.00" y2="194.35" stroke="#ececec" stroke-width="0.6" stroke-dasharray="1 1.2"/>
<line x1="23.60" y1="201.66" x2="285.00" y2="201.66" stroke="#ececec" stroke-width="0.6" stroke-dasharray="1 1.2"/>
<line x1="23.60" y1="208.97" x2="285.00" y2="208.97" stroke="#ececec" stroke-width="0.6" stroke-dasharray="1 1.2"/>
<line x1="23.60" y1="216.28" x2="285.00" y2="216.28" stroke="#ececec" stroke-width="0.6" stroke-dasharray="1 1.2"/>
<line x1="23.60" y1="223.59" x2="285.00" y2="223.59" stroke="#ececec" stroke-width="0.6" stroke-dasharray="1 1.2"/>
<line x1="23.60" y1="230.91" x2="285.00" y2="230.91" stroke="#ececec" stroke-width="0.6" stroke-dasharray="1 1.2"/>
<line x1="23.60" y1="238.22" x2="285.00" y2="238.22" stroke="#ececec" stroke-width="0.6" stroke-dasharray="1 1.2"/>
<line x1="23.60" y1="245.53" x2="285.00" y2="245.53" stroke="#ececec" stroke-width="0.6" stroke-dasharray="1 1.2"/>
<line x1="23.60" y1="252.84" x2="285.00" y2="252.84" stroke="#ececec" stroke-width="0.6" stroke-dasharray="1 1.2"/>
<line x1="23.60" y1="260.14" x2="285.00" y2="260.14" stroke="#ececec" stroke-width="0.6" stroke-dasharray="1 1.2"/>
<line x1="44.50" y1="176.08" x2="44.50" y2="263.80" stroke="#b4b4b4" stroke-width="0.8" stroke-dasharray="1 1.6"/>
<line x1="44.50" y1="263.80" x2="44.50" y2="266.80" stroke="#222" stroke-width="1"/>
<text x="44.50" y="276.54" font-size="6.3" fill="#333" text-anchor="middle">1</text>
<line x1="65.40" y1="176.08" x2="65.40" y2="263.80" stroke="#b4b4b4" stroke-width="0.8" stroke-dasharray="1 1.6"/>
<line x1="65.40" y1="263.80" x2="65.40" y2="266.80" stroke="#222" stroke-width="1"/>
<text x="65.40" y="276.54" font-size="6.3" fill="#333" text-anchor="middle">2</text>
<line x1="86.30" y1="176.08" x2="86.30" y2="263.80" stroke="#b4b4b4" stroke-width="0.8" stroke-dasharray="1 1.6"/>
<line x1="86.30" y1="263.80" x2="86.30" y2="266.80" stroke="#222" stroke-width="1"/>
<text x="86.30" y="276.54" font-size="6.3" fill="#333" text-anchor="middle">3</text>
<line x1="107.20" y1="176.08" x2="107.20" y2="263.80" stroke="#b4b4b4" stroke-width="0.8" stroke-dasharray="1 1.6"/>
<line x1="107.20" y1="263.80" x2="107.20" y2="266.80" stroke="#222" stroke-width="1"/>
<text x="107.20" y="276.54" font-size="6.3" fill="#333" text-anchor="middle">4</text>
<line x1="128.10" y1="176.08" x2="128.10" y2="263.80" stroke="#b4b4b4" stroke-width="0.8" stroke-dasharray="1 1.6"/>
<line x1="128.10" y1="263.80" x2="128.10" y2="266.80" stroke="#222" stroke-width="1"/>
<text x="128.10" y="276.54" font-size="6.3" fill="#333" text-anchor="middle">5</text>
<line x1="149.00" y1="176.08" x2="149.00" y2="263.80" stroke="#b4b4b4" stroke-width="0.8" stroke-dasharray="1 1.6"/>
<line x1="149.00" y1="263.80" x2="149.00" y2="266.80" stroke="#222" stroke-width="1"/>
<text x="149.00" y="276.54" font-size="6.3" fill="#333" text-anchor="middle">6</text>
<line x1="169.90" y1="176.08" x2="169.90" y2="263.80" stroke="#b4b4b4" stroke-width="0.8" stroke-dasharray="1 1.6"/>
<line x1="169.90" y1="263.80" x2="169.90" y2="266.80" stroke="#222" stroke-width="1"/>
<text x="169.90" y="276.54" font-size="6.3" fill="#333" text-anchor="middle">7</text>
<line x1="190.80" y1="176.08" x2="190.80" y2="263.80" stroke="#b4b4b4" stroke-width="0.8" stroke-dasharray="1 1.6"/>
<line x1="190.80" y1="263.80" x2="190.80" y2="266.80" stroke="#222" stroke-width="1"/>
<text x="190.80" y="276.54" font-size="6.3" fill="#333" text-anchor="middle">8</text>
<line x1="211.70" y1="176.08" x2="211.70" y2="263.80" stroke="#b4b4b4" stroke-width="0.8" stroke-dasharray="1 1.6"/>
<line x1="211.70" y1="263.80" x2="211.70" y2="266.80" stroke="#222" stroke-width="1"/>
<text x="211.70" y="276.54" font-size="6.3" fill="#333" text-anchor="middle">9</text>
<line x1="232.60" y1="176.08" x2="232.60" y2="263.80" stroke="#b4b4b4" stroke-width="0.8" stroke-dasharray="1 1.6"/>
<line x1="232.60" y1="263.80" x2="232.60" y2="266.80" stroke="#222" stroke-width="1"/>
<text x="232.60" y="276.54" font-size="6.3" fill="#333" text-anchor="middle">10</text>
<line x1="253.50" y1="176.08" x2="253.50" y2="263.80" stroke="#b4b4b4" stroke-width="0.8" stroke-dasharray="1 1.6"/>
<line x1="253.50" y1="263.80" x2="253.50" y2="266.80" stroke="#222" stroke-width="1"/>
<text x="253.50" y="276.54" font-size="6.3" fill="#333" text-anchor="middle">11</text>
<line x1="274.40" y1="176.08" x2="274.40" y2="263.80" stroke="#b4b4b4" stroke-width="0.8" stroke-dasharray="1 1.6"/>
<line x1="274.40" y1="263.80" x2="274.40" y2="266.80" stroke="#222" stroke-width="1"/>
<text x="274.40" y="276.54" font-size="6.3" fill="#333" text-anchor="middle">12</text>
<line x1="23.60" y1="172.78" x2="23.60" y2="264.70" stroke="#111" stroke-width="1.6"/>
<line x1="22.80" y1="263.80" x2="285.00" y2="263.80" stroke="#111" stroke-width="1.6"/>
<text x="120.20" y="186.20" font-size="6.5" fill="#333" text-anchor="end">&#8722;10</text>
<text x="246.00" y="186.20" font-size="6.5" fill="#333" text-anchor="end">&#8722;10</text>
<text x="120.20" y="193.51" font-size="6.5" fill="#333" text-anchor="end">0</text>
<text x="246.00" y="193.51" font-size="6.5" fill="#333" text-anchor="end">0</text>
<text x="120.20" y="200.82" font-size="6.5" fill="#333" text-anchor="end">10</text>
<text x="246.00" y="200.82" font-size="6.5" fill="#333" text-anchor="end">10</text>
<text x="120.20" y="208.13" font-size="6.5" fill="#333" text-anchor="end">20</text>
<text x="246.00" y="208.13" font-size="6.5" fill="#333" text-anchor="end">20</text>
<text x="120.20" y="215.44" font-size="6.5" fill="#333" text-anchor="end">30</text>
<text x="246.00" y="215.44" font-size="6.5" fill="#333" text-anchor="end">30</text>
<text x="120.20" y="222.75" font-size="6.5" fill="#333" text-anchor="end">40</text>
<text x="246.00" y="222.75" font-size="6.5" fill="#333" text-anchor="end">40</text>
<text x="120.20" y="230.06" font-size="6.5" fill="#333" text-anchor="end">50</text>
<text x="246.00" y="230.06" font-size="6.5" fill="#333" text-anchor="end">50</text>
<text x="120.20" y="237.37" font-size="6.5" fill="#333" text-anchor="end">60</text>
<text x="246.00" y="237.37" font-size="6.5" fill="#333" text-anchor="end">60</text>
<text x="120.20" y="244.68" font-size="6.5" fill="#333" text-anchor="end">70</text>
<text x="246.00" y="244.68" font-size="6.5" fill="#333" text-anchor="end">70</text>
<text x="120.20" y="251.99" font-size="6.5" fill="#333" text-anchor="end">80</text>
<text x="246.00" y="251.99" font-size="6.5" fill="#333" text-anchor="end">80</text>
<text x="120.20" y="259.30" font-size="6.5" fill="#333" text-anchor="end">90</text>
<text x="246.00" y="259.30" font-size="6.5" fill="#333" text-anchor="end">90</text>
<text x="27.20" y="170.84" font-size="6.3" fill="#333" textLength="19.5" lengthAdjust="spacingAndGlyphs">Stirring</text>
<line x1="29.40" y1="176.00" x2="29.40" y2="183.50" stroke="#222" stroke-width="0.9"/>
<polygon points="27.90,183.00 30.90,183.00 29.40,186.80" fill="#222"/>
<text x="127.10" y="171.41" font-size="6.5" fill="#333" text-anchor="middle">T6</text>
<line x1="127.10" y1="176.50" x2="127.10" y2="183.50" stroke="#222" stroke-width="0.9"/>
<polygon points="125.60,183.00 128.60,183.00 127.10,186.80" fill="#222"/>
<text x="151.40" y="171.41" font-size="6.5" fill="#333" text-anchor="middle">T6</text>
<line x1="151.40" y1="176.50" x2="151.40" y2="183.50" stroke="#222" stroke-width="0.9"/>
<polygon points="149.90,183.00 152.90,183.00 151.40,186.80" fill="#222"/>
<text x="175.20" y="171.41" font-size="6.5" fill="#333" text-anchor="middle">T6</text>
<line x1="175.20" y1="176.50" x2="175.20" y2="183.50" stroke="#222" stroke-width="0.9"/>
<polygon points="173.70,183.00 176.70,183.00 175.20,186.80" fill="#222"/>
<text x="197.80" y="171.41" font-size="6.5" fill="#333" text-anchor="middle">T6</text>
<line x1="197.80" y1="176.50" x2="197.80" y2="183.50" stroke="#222" stroke-width="0.9"/>
<polygon points="196.30,183.00 199.30,183.00 197.80,186.80" fill="#222"/>
<text x="223.00" y="171.41" font-size="6.5" fill="#333" text-anchor="middle">T6</text>
<line x1="223.00" y1="176.50" x2="223.00" y2="183.50" stroke="#222" stroke-width="0.9"/>
<polygon points="221.50,183.00 224.50,183.00 223.00,186.80" fill="#222"/>
<line x1="6.60" y1="177.90" x2="6.60" y2="252.80" stroke="#111" stroke-width="1.1"/>
<polygon points="4.20,252.30 9.00,252.30 6.60,258.30" fill="#111"/>
<text x="0" y="2.95" font-size="8.3" fill="#222" text-anchor="middle" font-weight="bold" textLength="53.8" lengthAdjust="spacingAndGlyphs" transform="translate(15.6,218.6) rotate(-90)">% Light transmission</text>
<polyline points="23.60,190.70 24.20,190.70 24.80,190.70 25.40,190.70 26.00,190.70 26.60,190.70 27.20,190.70 27.80,190.70 28.40,190.70 29.00,190.70 29.60,190.70 30.20,190.70 30.80,190.70 31.40,190.70 32.00,190.70 32.60,190.70 33.20,190.70 33.80,190.70 34.40,190.70 35.00,190.70 35.60,190.70 36.20,190.70 36.80,190.70 37.40,190.70 38.00,190.70 38.60,190.70 39.20,190.70 39.80,190.70 40.40,190.70 41.00,190.70 41.60,190.70 42.20,190.70 42.80,190.70 43.40,190.70 44.00,190.70 44.60,190.70" fill="none" stroke="#e86a5a" stroke-width="1.25" stroke-linejoin="round"/>
<polyline points="45.00,190.70 45.60,190.70 46.20,190.70 46.80,190.70 47.40,190.70 48.00,190.70 48.60,190.70 49.20,190.70 49.80,190.70 50.40,190.70 51.00,190.70 51.60,190.70 52.20,190.70 52.80,190.70 53.40,190.70 54.00,190.70 54.60,190.70 55.20,190.70 55.80,190.70 56.40,190.70 57.00,190.70 57.60,190.70 58.20,190.70 58.80,190.70 59.40,190.70 60.00,190.70 60.60,190.70 61.20,190.70 61.80,190.70 62.40,190.70 63.00,190.70 63.60,190.70 64.20,190.70 64.80,190.70" fill="none" stroke="#8a9a5a" stroke-width="1.25" stroke-linejoin="round"/>
<polyline points="65.00,190.70 65.60,190.70 66.20,190.70 66.80,190.70 67.40,190.70 68.00,190.70 68.60,190.70 69.20,190.70 69.80,190.70 70.40,190.70 71.00,190.70 71.60,190.70 72.20,190.70 72.80,190.70 73.40,190.70 74.00,190.70 74.60,190.70 75.20,190.70 75.80,190.70 76.40,190.70 77.00,190.70 77.60,190.70 78.20,190.70 78.80,190.70 79.40,190.70 80.00,190.70 80.60,190.70 81.20,190.70 81.80,190.70 82.40,190.70 83.00,190.70 83.60,190.70 84.20,190.70 84.80,190.70 85.40,190.70 86.00,190.70 86.60,190.70 87.20,190.70 87.80,190.70 88.40,190.70 89.00,190.70 89.60,190.70 90.20,190.70 90.80,190.70 91.40,190.70 92.00,190.70 92.60,190.70 93.20,190.70 93.80,190.70 94.40,190.70 95.00,190.70 95.60,190.70 96.20,190.70 96.80,190.70 97.40,190.70 98.00,190.70 98.60,190.70 99.20,190.70 99.80,190.70 100.40,190.70 101.00,190.70 101.60,190.70 102.20,190.70 102.80,190.70 103.40,190.70 104.00,190.70 104.60,190.70 105.20,190.70 105.80,190.70 106.40,190.70 107.00,190.70 107.60,190.70 108.20,190.70 108.80,190.70 109.40,190.70 110.00,190.70 110.60,190.70 111.20,190.70 111.80,190.70 112.40,190.70 113.00,190.70 113.60,190.70 114.20,190.70 114.80,190.70 115.40,190.70 116.00,190.70 116.60,190.70 117.20,190.70 117.80,190.70 118.40,190.70 119.00,190.70 119.60,190.70 120.20,190.70 120.80,190.70 121.40,190.70 122.00,190.70 122.60,190.70 123.20,190.70 123.80,190.70 124.40,190.70 125.00,190.70 125.60,190.70 126.20,190.70 126.80,190.70 127.40,190.70 128.00,190.70 128.60,190.70 129.20,190.70 129.80,190.70 130.40,190.70 131.00,190.70 131.60,190.70 132.20,190.70 132.80,190.70 133.40,190.70 134.00,190.70 134.60,190.70 135.20,190.70 135.80,190.70 136.40,190.70 137.00,190.70 137.60,190.70 138.20,190.70 138.80,190.70 139.40,190.70 140.00,190.70 140.60,190.70 141.20,190.70 141.80,190.70 142.40,190.70 143.00,190.70 143.60,190.70 144.20,190.70 144.80,190.70 145.40,190.70 146.00,190.70 146.60,190.70 147.20,190.70 147.80,190.70 148.40,190.70 149.00,190.70 149.60,190.70 150.20,190.70 150.80,190.70 151.40,190.70 152.00,190.70 152.60,190.70 153.20,190.70 153.80,190.70 154.40,190.70 155.00,190.70 155.60,190.70 156.20,190.70 156.80,190.70 157.40,190.70 158.00,190.70 158.60,190.70 159.20,190.70 159.80,190.70 160.40,190.70 161.00,190.70 161.60,190.70 162.20,190.70 162.80,190.70 163.40,190.70 164.00,190.70 164.60,190.70 165.20,190.70 165.80,190.70 166.40,190.70 167.00,190.70 167.60,190.70 168.20,190.70 168.80,190.70 169.40,190.70 170.00,190.70 170.60,190.70 171.20,190.70 171.80,190.70 172.40,190.70 173.00,190.70 173.60,190.70 174.20,190.70 174.80,190.70 175.40,190.70 176.00,190.70 176.60,190.70 177.20,190.70 177.80,190.70 178.40,190.70 179.00,190.70 179.60,190.70 180.20,190.70 180.80,190.70 181.40,190.70 182.00,190.70 182.60,190.70 183.20,190.70 183.80,190.70 184.40,190.70 185.00,190.70 185.60,190.70 186.20,190.70 186.80,190.70 187.40,190.70 188.00,190.70 188.60,190.70 189.20,190.70 189.80,190.70 190.40,190.70 191.00,190.70 191.60,190.70 192.20,190.70 192.80,190.70 193.40,190.70 194.00,190.70 194.60,190.70 195.20,190.70 195.80,190.70 196.40,190.70 197.00,190.70 197.60,190.70 198.20,190.70 198.80,190.70 199.40,190.70 200.00,190.70 200.60,190.70 201.20,190.70 201.80,190.70 202.40,190.70 203.00,190.70 203.60,190.70 204.20,190.70 204.80,190.70 205.40,190.70 206.00,190.70 206.60,190.70 207.20,190.70 207.80,190.70 208.40,190.70 209.00,190.70 209.60,190.70 210.20,190.70 210.80,190.70 211.40,190.70 212.00,190.70 212.60,190.70 213.20,190.70 213.80,190.70 214.40,190.70 215.00,190.70 215.60,190.70 216.20,190.70 216.80,190.70 217.40,190.70 218.00,190.70 218.60,190.70 219.20,190.70 219.80,190.70 220.40,190.70 221.00,190.70 221.60,190.70 222.20,190.70 222.80,190.70 223.40,190.70 224.00,190.70 224.60,190.70 225.20,190.70 225.80,190.70 226.40,190.70 227.00,190.70 227.60,190.70 228.20,190.70 228.80,190.70 229.40,190.70 230.00,190.70 230.60,190.70 231.20,190.70 231.80,190.70 232.40,190.70 233.00,190.70 233.60,190.70 234.20,190.70 234.80,190.70 235.40,190.70 236.00,190.70 236.60,190.70 237.20,190.70 237.80,190.70 238.40,190.70 239.00,190.70 239.60,190.70 240.20,190.70 240.80,190.70 241.40,190.70 242.00,190.70 242.60,190.70 243.20,190.70 243.80,190.70 244.40,190.70 245.00,190.70 245.60,190.70 246.20,190.70 246.80,190.70 247.40,190.70 248.00,190.70 248.60,190.70 249.20,190.70 249.80,190.70 250.40,190.70 251.00,190.70 251.60,190.70 252.20,190.70 252.80,190.70 253.40,190.70 254.00,190.70 254.60,190.70 255.20,190.70 255.80,190.70 256.40,190.70 257.00,190.70 257.60,190.70 258.20,190.70 258.80,190.70 259.40,190.70 260.00,190.70 260.60,190.70 261.20,190.70 261.80,190.70 262.40,190.70 263.00,190.70 263.60,190.70 264.20,190.70 264.80,190.70 265.40,190.70 266.00,190.70 266.60,190.70 267.20,190.70 267.80,190.70 268.40,190.70 269.00,190.70 269.60,190.70 270.20,190.70 270.80,190.70 271.40,190.70 272.00,190.70 272.60,190.70 273.20,190.70 273.80,190.70 274.40,190.70 275.00,190.70 275.60,190.70 276.20,190.70 276.80,190.70 277.40,190.70 278.00,190.70 278.60,190.70 279.20,190.70 279.80,190.70 280.40,190.70 281.00,190.70 281.60,190.70 282.20,190.70 282.80,190.70 283.40,190.70 284.00,190.70 284.60,190.70" fill="none" stroke="#2a2a5e" stroke-width="1.2" stroke-linejoin="round"/>
<polyline points="223.00,190.70 223.60,190.78 224.20,190.85 224.80,190.93 225.40,191.01 226.00,191.09 226.60,191.16 227.20,191.24 227.80,191.32 228.40,191.39 229.00,191.47 229.60,191.55 230.20,191.61 230.80,191.62 231.40,191.64 232.00,191.66 232.60,191.68 233.20,191.70 233.80,191.71 234.40,191.73 235.00,191.75 235.60,191.77 236.20,191.79 236.80,191.80 237.40,191.82 238.00,191.84 238.60,191.86 239.20,191.88 239.80,191.89 240.40,191.90 241.00,191.90 241.60,191.90 242.20,191.90 242.80,191.90 243.40,191.90 244.00,191.90 244.60,191.90 245.20,191.90 245.80,191.90 246.40,191.90 247.00,191.90 247.60,191.90 248.20,191.90 248.80,191.90 249.40,191.90 250.00,191.90 250.60,191.90 251.20,191.90 251.80,191.90 252.40,191.90 253.00,191.90 253.60,191.90 254.20,191.90 254.80,191.90 255.40,191.90 256.00,191.90 256.60,191.90 257.20,191.90 257.80,191.90 258.40,191.90 259.00,191.90 259.60,191.90 260.20,191.90 260.80,191.90 261.40,191.90 262.00,191.90 262.60,191.90 263.20,191.90 263.80,191.90 264.40,191.90 265.00,191.90 265.60,191.90 266.20,191.90 266.80,191.90 267.40,191.90 268.00,191.90 268.60,191.90 269.20,191.90 269.80,191.90 270.40,191.90 271.00,191.90 271.60,191.90 272.20,191.90 272.80,191.90 273.40,191.90 274.00,191.90 274.60,191.90 275.20,191.90 275.80,191.90 276.40,191.90 277.00,191.90 277.60,191.90 278.20,191.90 278.80,191.90 279.40,191.90 280.00,191.90 280.60,191.90 281.20,191.90 281.80,191.90 282.40,191.90 283.00,191.90 283.60,191.90 284.20,191.90 284.80,191.90" fill="none" stroke="#6e5aae" stroke-width="1.25" stroke-linejoin="round"/>
<polyline points="126.60,190.70 127.20,191.26 127.80,191.81 128.40,194.28 129.00,197.69 129.60,202.78 130.20,209.55 130.80,213.37 131.40,215.71 132.00,218.06 132.60,220.41 133.20,221.45 133.80,222.23 134.40,223.18 135.00,223.23 135.60,225.54 136.20,224.60 136.80,226.53 137.40,226.45 138.00,226.29 138.60,226.70 139.20,227.20 139.80,228.14 140.40,228.54 141.00,229.37 141.60,228.09 142.20,229.02 142.80,229.28 143.40,230.16 144.00,229.15 144.60,230.30 145.20,230.92 145.80,230.36 146.40,231.67 147.00,231.71 147.60,232.21 148.20,232.13 148.80,231.02 149.40,231.05 150.00,231.67 150.60,232.46 151.20,232.54 151.80,231.69 152.40,231.61 153.00,231.63 153.60,231.88 154.20,232.24 154.80,232.75 155.40,233.89 156.00,232.70 156.60,232.69 157.20,233.09 157.80,232.48 158.40,232.81 159.00,233.30 159.60,233.61 160.20,232.82 160.80,234.06 161.40,233.47 162.00,233.72 162.60,234.25 163.20,234.34 163.80,234.51 164.40,234.04 165.00,233.91 165.60,233.98 166.20,233.55 166.80,234.56 167.40,233.60 168.00,233.54 168.60,235.33 169.20,234.31 169.80,233.83 170.40,235.37 171.00,234.65 171.60,235.04 172.20,234.17 172.80,234.15 173.40,233.35 174.00,233.21 174.60,233.93 175.20,234.75 175.80,235.66 176.40,236.36 177.00,234.69 177.60,235.31 178.20,234.65 178.80,234.55 179.40,233.79 180.00,233.72 180.60,234.13 181.20,234.14 181.80,234.75 182.40,234.76 183.00,235.76 183.60,235.35 184.20,235.36 184.80,235.91 185.40,235.59 186.00,235.17 186.60,235.07 187.20,235.22 187.80,235.95 188.40,235.89 189.00,235.66 189.60,235.71 190.20,235.08 190.80,235.33 191.40,234.65 192.00,235.97 192.60,235.58 193.20,235.54 193.80,235.75 194.40,235.41 195.00,235.39 195.60,236.13 196.20,235.53 196.80,234.94 197.40,235.38 198.00,234.68 198.60,236.28 199.20,235.62 199.80,235.80 200.40,237.20 201.00,237.15 201.60,235.91 202.20,236.01 202.80,236.44 203.40,236.62 204.00,235.59 204.60,235.65 205.20,236.23 205.80,235.84 206.40,235.99 207.00,235.72 207.60,234.62 208.20,234.31 208.80,233.54 209.40,235.01 210.00,236.00 210.60,234.98 211.20,236.08 211.80,236.10 212.40,235.40 213.00,235.29 213.60,235.22 214.20,234.71 214.80,234.97 215.40,235.27 216.00,235.74 216.60,235.72 217.20,234.98 217.80,235.54 218.40,234.81 219.00,235.04 219.60,235.40 220.20,235.21 220.80,235.13 221.40,235.25 222.00,234.76 222.60,234.64 223.20,235.06 223.80,235.70 224.40,235.45 225.00,236.33 225.60,235.10 226.20,233.20 226.80,234.64 227.40,236.07 228.00,235.24 228.60,234.67 229.20,234.63 229.80,235.90 230.40,235.94 231.00,235.65 231.60,235.58 232.20,236.09 232.80,235.71" fill="none" stroke="#e8422f" stroke-width="1.25" stroke-linejoin="round"/>
<polyline points="152.00,190.70 152.60,191.02 153.20,191.34 153.80,191.96 154.40,192.89 155.00,193.82 155.60,194.75 156.20,195.68 156.80,196.61 157.40,197.54 158.00,198.47 158.60,199.40 159.20,200.21 159.80,201.01 160.40,201.82 161.00,202.62 161.60,203.43 162.20,204.24 162.80,205.04 163.40,205.85 164.00,206.65 164.60,207.46 165.20,208.27 165.80,208.78 166.40,209.23 167.00,209.68 167.60,210.14 168.20,210.59 168.80,211.04 169.40,211.50 170.00,211.95 170.60,212.40 171.20,212.86 171.80,213.31 172.40,213.76 173.00,214.22 173.60,214.67 174.20,215.12 174.80,215.40 175.40,215.64 176.00,215.88 176.60,216.12 177.20,216.35 177.80,216.59 178.40,216.83 179.00,217.07 179.60,217.31 180.20,217.55 180.80,217.79 181.40,218.03 182.00,218.27 182.60,218.51 183.20,218.74 183.80,218.98 184.40,219.22 185.00,219.46 185.60,219.70 186.20,219.80 186.80,219.91 187.40,220.01 188.00,220.11 188.60,220.21 189.20,220.32 189.80,220.42 190.40,220.52 191.00,220.63 191.60,220.73 192.20,220.83 192.80,220.94 193.40,221.04 194.00,221.14 194.60,221.24 195.20,221.35 195.80,221.45 196.40,221.55 197.00,221.66 197.60,221.76 198.20,221.86 198.80,221.97 199.40,222.02 200.00,222.05 200.60,222.08 201.20,222.10 201.80,222.13 202.40,222.16 203.00,222.19 203.60,222.22 204.20,222.25 204.80,222.28 205.40,222.30 206.00,222.33 206.60,222.36 207.20,222.39 207.80,222.42 208.40,222.45 209.00,222.48 209.60,222.50 210.20,222.53 210.80,222.56 211.40,222.59 212.00,222.62 212.60,222.65 213.20,222.68 213.80,222.70 214.40,222.73 215.00,222.76 215.60,222.79 216.20,222.82 216.80,222.85 217.40,222.88 218.00,222.90 218.60,222.93 219.20,222.96 219.80,222.99 220.40,223.00 221.00,223.01 221.60,223.01 222.20,223.02 222.80,223.02 223.40,223.03 224.00,223.04 224.60,223.04 225.20,223.05 225.80,223.05 226.40,223.06 227.00,223.06 227.60,223.07 228.20,223.07 228.80,223.08 229.40,223.08 230.00,223.09 230.60,223.09 231.20,223.10 231.80,223.10 232.40,223.11 233.00,223.11 233.60,223.12 234.20,223.13 234.80,223.13 235.40,223.14 236.00,223.14 236.60,223.15 237.20,223.15 237.80,223.16 238.40,223.16 239.00,223.17 239.60,223.17 240.20,223.18 240.80,223.18 241.40,223.19 242.00,223.19 242.60,223.20 243.20,223.20 243.80,223.21 244.40,223.22 245.00,223.22 245.60,223.23 246.20,223.23 246.80,223.24 247.40,223.24 248.00,223.25 248.60,223.25 249.20,223.26 249.80,223.26 250.40,223.27 251.00,223.27 251.60,223.28 252.20,223.28 252.80,223.29 253.40,223.29 254.00,223.30" fill="none" stroke="#3aa03a" stroke-width="1.25" stroke-linejoin="round"/>
<polyline points="175.50,190.70 176.10,191.25 176.70,191.80 177.30,192.36 177.90,192.91 178.50,193.82 179.10,194.81 179.70,195.79 180.30,196.78 180.90,197.76 181.50,198.75 182.10,199.73 182.70,200.72 183.30,201.70 183.90,202.15 184.50,202.59 185.10,203.04 185.70,203.49 186.30,203.93 186.90,204.38 187.50,204.83 188.10,205.27 188.70,205.72 189.30,206.17 189.90,206.61 190.50,207.06 191.10,207.51 191.70,207.95 192.30,208.40 192.90,208.65 193.50,208.91 194.10,209.16 194.70,209.42 195.30,209.67 195.90,209.93 196.50,210.18 197.10,210.44 197.70,210.69 198.30,210.95 198.90,211.20 199.50,211.46 200.10,211.71 200.70,211.92 201.30,212.11 201.90,212.29 202.50,212.48 203.10,212.66 203.70,212.85 204.30,213.03 204.90,213.22 205.50,213.40 206.10,213.59 206.70,213.78 207.30,213.96 207.90,214.15 208.50,214.33 209.10,214.52 209.70,214.70 210.30,214.89 210.90,215.07 211.50,215.26 212.10,215.44 212.70,215.63 213.30,215.81 213.90,216.00 214.50,216.18 215.10,216.39 215.70,216.59 216.30,216.87 216.90,216.78 217.50,216.87 218.10,217.03 218.70,217.04 219.30,216.95 219.90,217.28 220.50,216.91 221.10,216.88 221.70,217.05 222.30,217.60 222.90,217.42 223.50,217.26 224.10,217.34 224.70,217.70 225.30,217.47 225.90,217.51 226.50,217.93 227.10,217.70 227.70,217.90 228.30,218.07 228.90,218.07 229.50,218.28 230.10,218.61 230.70,218.26 231.30,218.01 231.90,217.98 232.50,218.41 233.10,218.51 233.70,218.61 234.30,218.46 234.90,218.40 235.50,218.34 236.10,218.41 236.70,218.56 237.30,218.48 237.90,218.66 238.50,219.04 239.10,218.68 239.70,218.27 240.30,218.89 240.90,218.65 241.50,218.35 242.10,218.69 242.70,218.53 243.30,218.32 243.90,218.26 244.50,218.22 245.10,218.50 245.70,218.73 246.30,218.47 246.90,218.65 247.50,218.88 248.10,218.27 248.70,218.44 249.30,218.33 249.90,218.11 250.50,218.13 251.10,218.40 251.70,218.50 252.30,218.31 252.90,218.44 253.50,218.60 254.10,218.56 254.70,218.65 255.30,218.58 255.90,218.63 256.50,218.89 257.10,218.63 257.70,218.47 258.30,218.50 258.90,218.15 259.50,218.26 260.10,218.56 260.70,218.62 261.30,218.75 261.90,218.34 262.50,218.07 263.10,218.78 263.70,218.63 264.30,218.18 264.90,218.59 265.50,218.28 266.10,217.83 266.70,218.06 267.30,218.22 267.90,218.60 268.50,218.15 269.10,218.15 269.70,218.16 270.30,218.10 270.90,218.01 271.50,218.30 272.10,218.54 272.70,218.39 273.30,217.97 273.90,217.90 274.50,218.15 275.10,218.01 275.70,218.01" fill="none" stroke="#2e2f8f" stroke-width="1.25" stroke-linejoin="round"/>
<text x="146.00" y="217.01" font-size="6.5" fill="#3aa03a" textLength="19.5" lengthAdjust="spacingAndGlyphs">5 &#956;g/ml</text>
<text x="135.00" y="241.61" font-size="6.5" fill="#e8422f" textLength="20" lengthAdjust="spacingAndGlyphs">Control</text>
<text x="187.70" y="200.31" font-size="6.5" fill="#2e2f8f" textLength="24.5" lengthAdjust="spacingAndGlyphs">10 &#956;g/ml</text>
<text x="255.00" y="189.11" font-size="6.5" fill="#222" textLength="24.5" lengthAdjust="spacingAndGlyphs">40 &#956;g/ml</text>
<text x="249.80" y="201.11" font-size="6.5" fill="#6e5aae" textLength="25.2" lengthAdjust="spacingAndGlyphs">20 &#956;g/ml</text>
<text x="31.80" y="223.31" font-size="6.5" fill="#333" textLength="16.5" lengthAdjust="spacingAndGlyphs">R6H8</text>
<text x="30.80" y="230.31" font-size="6.5" fill="#333" textLength="19" lengthAdjust="spacingAndGlyphs">F(ab')2</text>
<text x="149.60" y="287.51" font-size="8.2" fill="#222" font-weight="bold" textLength="9.4" lengthAdjust="spacingAndGlyphs">Min</text>
<text x="7.60" y="308.98" font-size="11.5" fill="#111" font-weight="bold">C</text>
<line x1="23.60" y1="322.86" x2="285.00" y2="322.86" stroke="#a8a8a8" stroke-width="0.7" stroke-dasharray="1 1"/>
<line x1="23.60" y1="330.23" x2="285.00" y2="330.23" stroke="#a8a8a8" stroke-width="0.7" stroke-dasharray="1 1"/>
<line x1="23.60" y1="337.60" x2="285.00" y2="337.60" stroke="#a8a8a8" stroke-width="0.7" stroke-dasharray="1 1"/>
<line x1="23.60" y1="344.97" x2="285.00" y2="344.97" stroke="#a8a8a8" stroke-width="0.7" stroke-dasharray="1 1"/>
<line x1="23.60" y1="352.34" x2="285.00" y2="352.34" stroke="#a8a8a8" stroke-width="0.7" stroke-dasharray="1 1"/>
<line x1="23.60" y1="359.71" x2="285.00" y2="359.71" stroke="#a8a8a8" stroke-width="0.7" stroke-dasharray="1 1"/>
<line x1="23.60" y1="367.08" x2="285.00" y2="367.08" stroke="#a8a8a8" stroke-width="0.7" stroke-dasharray="1 1"/>
<line x1="23.60" y1="374.45" x2="285.00" y2="374.45" stroke="#a8a8a8" stroke-width="0.7" stroke-dasharray="1 1"/>
<line x1="23.60" y1="381.82" x2="285.00" y2="381.82" stroke="#a8a8a8" stroke-width="0.7" stroke-dasharray="1 1"/>
<line x1="23.60" y1="389.19" x2="285.00" y2="389.19" stroke="#a8a8a8" stroke-width="0.7" stroke-dasharray="1 1"/>
<line x1="23.60" y1="396.56" x2="285.00" y2="396.56" stroke="#a8a8a8" stroke-width="0.7" stroke-dasharray="1 1"/>
<line x1="23.60" y1="403.93" x2="285.00" y2="403.93" stroke="#a8a8a8" stroke-width="0.7" stroke-dasharray="1 1"/>
<line x1="23.60" y1="326.55" x2="285.00" y2="326.55" stroke="#ececec" stroke-width="0.6" stroke-dasharray="1 1.2"/>
<line x1="23.60" y1="333.92" x2="285.00" y2="333.92" stroke="#ececec" stroke-width="0.6" stroke-dasharray="1 1.2"/>
<line x1="23.60" y1="341.29" x2="285.00" y2="341.29" stroke="#ececec" stroke-width="0.6" stroke-dasharray="1 1.2"/>
<line x1="23.60" y1="348.66" x2="285.00" y2="348.66" stroke="#ececec" stroke-width="0.6" stroke-dasharray="1 1.2"/>
<line x1="23.60" y1="356.03" x2="285.00" y2="356.03" stroke="#ececec" stroke-width="0.6" stroke-dasharray="1 1.2"/>
<line x1="23.60" y1="363.40" x2="285.00" y2="363.40" stroke="#ececec" stroke-width="0.6" stroke-dasharray="1 1.2"/>
<line x1="23.60" y1="370.76" x2="285.00" y2="370.76" stroke="#ececec" stroke-width="0.6" stroke-dasharray="1 1.2"/>
<line x1="23.60" y1="378.13" x2="285.00" y2="378.13" stroke="#ececec" stroke-width="0.6" stroke-dasharray="1 1.2"/>
<line x1="23.60" y1="385.50" x2="285.00" y2="385.50" stroke="#ececec" stroke-width="0.6" stroke-dasharray="1 1.2"/>
<line x1="23.60" y1="392.88" x2="285.00" y2="392.88" stroke="#ececec" stroke-width="0.6" stroke-dasharray="1 1.2"/>
<line x1="23.60" y1="400.25" x2="285.00" y2="400.25" stroke="#ececec" stroke-width="0.6" stroke-dasharray="1 1.2"/>
<line x1="23.60" y1="407.62" x2="285.00" y2="407.62" stroke="#ececec" stroke-width="0.6" stroke-dasharray="1 1.2"/>
<line x1="44.50" y1="322.86" x2="44.50" y2="411.30" stroke="#b4b4b4" stroke-width="0.8" stroke-dasharray="1 1.6"/>
<line x1="44.50" y1="411.30" x2="44.50" y2="414.30" stroke="#222" stroke-width="1"/>
<text x="44.50" y="424.04" font-size="6.3" fill="#333" text-anchor="middle">1</text>
<line x1="65.40" y1="322.86" x2="65.40" y2="411.30" stroke="#b4b4b4" stroke-width="0.8" stroke-dasharray="1 1.6"/>
<line x1="65.40" y1="411.30" x2="65.40" y2="414.30" stroke="#222" stroke-width="1"/>
<text x="65.40" y="424.04" font-size="6.3" fill="#333" text-anchor="middle">2</text>
<line x1="86.30" y1="322.86" x2="86.30" y2="411.30" stroke="#b4b4b4" stroke-width="0.8" stroke-dasharray="1 1.6"/>
<line x1="86.30" y1="411.30" x2="86.30" y2="414.30" stroke="#222" stroke-width="1"/>
<text x="86.30" y="424.04" font-size="6.3" fill="#333" text-anchor="middle">3</text>
<line x1="107.20" y1="322.86" x2="107.20" y2="411.30" stroke="#b4b4b4" stroke-width="0.8" stroke-dasharray="1 1.6"/>
<line x1="107.20" y1="411.30" x2="107.20" y2="414.30" stroke="#222" stroke-width="1"/>
<text x="107.20" y="424.04" font-size="6.3" fill="#333" text-anchor="middle">4</text>
<line x1="128.10" y1="322.86" x2="128.10" y2="411.30" stroke="#b4b4b4" stroke-width="0.8" stroke-dasharray="1 1.6"/>
<line x1="128.10" y1="411.30" x2="128.10" y2="414.30" stroke="#222" stroke-width="1"/>
<text x="128.10" y="424.04" font-size="6.3" fill="#333" text-anchor="middle">5</text>
<line x1="149.00" y1="322.86" x2="149.00" y2="411.30" stroke="#b4b4b4" stroke-width="0.8" stroke-dasharray="1 1.6"/>
<line x1="149.00" y1="411.30" x2="149.00" y2="414.30" stroke="#222" stroke-width="1"/>
<text x="149.00" y="424.04" font-size="6.3" fill="#333" text-anchor="middle">6</text>
<line x1="169.90" y1="322.86" x2="169.90" y2="411.30" stroke="#b4b4b4" stroke-width="0.8" stroke-dasharray="1 1.6"/>
<line x1="169.90" y1="411.30" x2="169.90" y2="414.30" stroke="#222" stroke-width="1"/>
<text x="169.90" y="424.04" font-size="6.3" fill="#333" text-anchor="middle">7</text>
<line x1="190.80" y1="322.86" x2="190.80" y2="411.30" stroke="#b4b4b4" stroke-width="0.8" stroke-dasharray="1 1.6"/>
<line x1="190.80" y1="411.30" x2="190.80" y2="414.30" stroke="#222" stroke-width="1"/>
<text x="190.80" y="424.04" font-size="6.3" fill="#333" text-anchor="middle">8</text>
<line x1="211.70" y1="322.86" x2="211.70" y2="411.30" stroke="#b4b4b4" stroke-width="0.8" stroke-dasharray="1 1.6"/>
<line x1="211.70" y1="411.30" x2="211.70" y2="414.30" stroke="#222" stroke-width="1"/>
<text x="211.70" y="424.04" font-size="6.3" fill="#333" text-anchor="middle">9</text>
<line x1="232.60" y1="322.86" x2="232.60" y2="411.30" stroke="#b4b4b4" stroke-width="0.8" stroke-dasharray="1 1.6"/>
<line x1="232.60" y1="411.30" x2="232.60" y2="414.30" stroke="#222" stroke-width="1"/>
<text x="232.60" y="424.04" font-size="6.3" fill="#333" text-anchor="middle">10</text>
<line x1="253.50" y1="322.86" x2="253.50" y2="411.30" stroke="#b4b4b4" stroke-width="0.8" stroke-dasharray="1 1.6"/>
<line x1="253.50" y1="411.30" x2="253.50" y2="414.30" stroke="#222" stroke-width="1"/>
<text x="253.50" y="424.04" font-size="6.3" fill="#333" text-anchor="middle">11</text>
<line x1="274.40" y1="322.86" x2="274.40" y2="411.30" stroke="#b4b4b4" stroke-width="0.8" stroke-dasharray="1 1.6"/>
<line x1="274.40" y1="411.30" x2="274.40" y2="414.30" stroke="#222" stroke-width="1"/>
<text x="274.40" y="424.04" font-size="6.3" fill="#333" text-anchor="middle">12</text>
<line x1="23.60" y1="319.56" x2="23.60" y2="412.20" stroke="#111" stroke-width="1.6"/>
<line x1="22.80" y1="411.30" x2="285.00" y2="411.30" stroke="#111" stroke-width="1.6"/>
<text x="120.20" y="333.04" font-size="6.5" fill="#333" text-anchor="end">&#8722;10</text>
<text x="246.00" y="333.04" font-size="6.5" fill="#333" text-anchor="end">&#8722;10</text>
<text x="120.20" y="340.41" font-size="6.5" fill="#333" text-anchor="end">0</text>
<text x="246.00" y="340.41" font-size="6.5" fill="#333" text-anchor="end">0</text>
<text x="120.20" y="347.78" font-size="6.5" fill="#333" text-anchor="end">10</text>
<text x="246.00" y="347.78" font-size="6.5" fill="#333" text-anchor="end">10</text>
<text x="120.20" y="355.15" font-size="6.5" fill="#333" text-anchor="end">20</text>
<text x="246.00" y="355.15" font-size="6.5" fill="#333" text-anchor="end">20</text>
<text x="120.20" y="362.52" font-size="6.5" fill="#333" text-anchor="end">30</text>
<text x="246.00" y="362.52" font-size="6.5" fill="#333" text-anchor="end">30</text>
<text x="120.20" y="369.89" font-size="6.5" fill="#333" text-anchor="end">40</text>
<text x="246.00" y="369.89" font-size="6.5" fill="#333" text-anchor="end">40</text>
<text x="120.20" y="377.26" font-size="6.5" fill="#333" text-anchor="end">50</text>
<text x="246.00" y="377.26" font-size="6.5" fill="#333" text-anchor="end">50</text>
<text x="120.20" y="384.63" font-size="6.5" fill="#333" text-anchor="end">60</text>
<text x="246.00" y="384.63" font-size="6.5" fill="#333" text-anchor="end">60</text>
<text x="120.20" y="392.00" font-size="6.5" fill="#333" text-anchor="end">70</text>
<text x="246.00" y="392.00" font-size="6.5" fill="#333" text-anchor="end">70</text>
<text x="120.20" y="399.37" font-size="6.5" fill="#333" text-anchor="end">80</text>
<text x="246.00" y="399.37" font-size="6.5" fill="#333" text-anchor="end">80</text>
<text x="120.20" y="406.74" font-size="6.5" fill="#333" text-anchor="end">90</text>
<text x="246.00" y="406.74" font-size="6.5" fill="#333" text-anchor="end">90</text>
<text x="28.40" y="316.64" font-size="6.3" fill="#333" textLength="19.8" lengthAdjust="spacingAndGlyphs">Stirring</text>
<line x1="29.80" y1="322.40" x2="29.80" y2="329.20" stroke="#222" stroke-width="0.9"/>
<polygon points="28.30,328.70 31.30,328.70 29.80,332.50" fill="#222"/>
<text x="127.10" y="317.51" font-size="6.5" fill="#333" text-anchor="middle">T6</text>
<line x1="127.10" y1="323.00" x2="127.10" y2="329.50" stroke="#222" stroke-width="0.9"/>
<polygon points="125.60,329.00 128.60,329.00 127.10,332.80" fill="#222"/>
<text x="151.40" y="317.51" font-size="6.5" fill="#333" text-anchor="middle">T6</text>
<line x1="151.40" y1="323.00" x2="151.40" y2="329.50" stroke="#222" stroke-width="0.9"/>
<polygon points="149.90,329.00 152.90,329.00 151.40,332.80" fill="#222"/>
<text x="175.20" y="317.51" font-size="6.5" fill="#333" text-anchor="middle">T6</text>
<line x1="175.20" y1="323.00" x2="175.20" y2="329.50" stroke="#222" stroke-width="0.9"/>
<polygon points="173.70,329.00 176.70,329.00 175.20,332.80" fill="#222"/>
<text x="197.60" y="317.51" font-size="6.5" fill="#333" text-anchor="middle">T6</text>
<line x1="197.60" y1="323.00" x2="197.60" y2="329.50" stroke="#222" stroke-width="0.9"/>
<polygon points="196.10,329.00 199.10,329.00 197.60,332.80" fill="#222"/>
<text x="223.30" y="317.51" font-size="6.5" fill="#333" text-anchor="middle">T6</text>
<line x1="223.30" y1="323.00" x2="223.30" y2="329.50" stroke="#222" stroke-width="0.9"/>
<polygon points="221.80,329.00 224.80,329.00 223.30,332.80" fill="#222"/>
<line x1="6.90" y1="326.80" x2="6.90" y2="403.50" stroke="#111" stroke-width="1.1"/>
<polygon points="4.50,403.00 9.30,403.00 6.90,409.00" fill="#111"/>
<text x="0" y="2.95" font-size="8.3" fill="#222" text-anchor="middle" font-weight="bold" textLength="54" lengthAdjust="spacingAndGlyphs" transform="translate(15.6,365) rotate(-90)">% Light transmission</text>
<polyline points="23.60,337.60 24.20,337.60 24.80,337.60 25.40,337.60 26.00,337.60 26.60,337.60 27.20,337.60 27.80,337.60 28.40,337.60 29.00,337.60 29.60,337.60 30.20,337.60 30.80,337.60 31.40,337.60 32.00,337.60 32.60,337.60 33.20,337.60 33.80,337.60 34.40,337.60 35.00,337.60 35.60,337.60 36.20,337.60 36.80,337.60 37.40,337.60 38.00,337.60 38.60,337.60 39.20,337.60 39.80,337.60 40.40,337.60 41.00,337.60 41.60,337.60 42.20,337.60 42.80,337.60 43.40,337.60 44.00,337.60 44.60,337.60" fill="none" stroke="#e86a5a" stroke-width="1.25" stroke-linejoin="round"/>
<polyline points="45.00,337.60 45.60,337.60 46.20,337.60 46.80,337.60 47.40,337.60 48.00,337.60 48.60,337.60 49.20,337.60 49.80,337.60 50.40,337.60 51.00,337.60 51.60,337.60 52.20,337.60 52.80,337.60 53.40,337.60 54.00,337.60 54.60,337.60 55.20,337.60 55.80,337.60 56.40,337.60 57.00,337.60 57.60,337.60 58.20,337.60 58.80,337.60 59.40,337.60 60.00,337.60 60.60,337.60 61.20,337.60 61.80,337.60 62.40,337.60 63.00,337.60 63.60,337.60 64.20,337.60 64.80,337.60" fill="none" stroke="#8a9a5a" stroke-width="1.25" stroke-linejoin="round"/>
<polyline points="65.00,337.60 65.60,337.60 66.20,337.60 66.80,337.60 67.40,337.60 68.00,337.60 68.60,337.60 69.20,337.60 69.80,337.60 70.40,337.60 71.00,337.60 71.60,337.60 72.20,337.60 72.80,337.60 73.40,337.60 74.00,337.60 74.60,337.60 75.20,337.60 75.80,337.60 76.40,337.60 77.00,337.60 77.60,337.60 78.20,337.60 78.80,337.60 79.40,337.60 80.00,337.60 80.60,337.60 81.20,337.60 81.80,337.60 82.40,337.60 83.00,337.60 83.60,337.60 84.20,337.60 84.80,337.60 85.40,337.60 86.00,337.60 86.60,337.60 87.20,337.60 87.80,337.60 88.40,337.60 89.00,337.60 89.60,337.60 90.20,337.60 90.80,337.60 91.40,337.60 92.00,337.60 92.60,337.60 93.20,337.60 93.80,337.60 94.40,337.60 95.00,337.60 95.60,337.60 96.20,337.60 96.80,337.60 97.40,337.60 98.00,337.60 98.60,337.60 99.20,337.60 99.80,337.60 100.40,337.60 101.00,337.60 101.60,337.60 102.20,337.60 102.80,337.60 103.40,337.60 104.00,337.60 104.60,337.60 105.20,337.60 105.80,337.60 106.40,337.60 107.00,337.60 107.60,337.60 108.20,337.60 108.80,337.60 109.40,337.60 110.00,337.60 110.60,337.60 111.20,337.60 111.80,337.60 112.40,337.60 113.00,337.60 113.60,337.60 114.20,337.60 114.80,337.60 115.40,337.60 116.00,337.60 116.60,337.60 117.20,337.60 117.80,337.60 118.40,337.60 119.00,337.60 119.60,337.60 120.20,337.60 120.80,337.60 121.40,337.60 122.00,337.60 122.60,337.60 123.20,337.60 123.80,337.60 124.40,337.60 125.00,337.60 125.60,337.60 126.20,337.60 126.80,337.60 127.40,337.60 128.00,337.60 128.60,337.60 129.20,337.60 129.80,337.60 130.40,337.60 131.00,337.60 131.60,337.60 132.20,337.60 132.80,337.60 133.40,337.60 134.00,337.60 134.60,337.60 135.20,337.60 135.80,337.60 136.40,337.60 137.00,337.60 137.60,337.60 138.20,337.60 138.80,337.60 139.40,337.60 140.00,337.60 140.60,337.60 141.20,337.60 141.80,337.60 142.40,337.60 143.00,337.60 143.60,337.60 144.20,337.60 144.80,337.60 145.40,337.60 146.00,337.60 146.60,337.60 147.20,337.60 147.80,337.60 148.40,337.60 149.00,337.60 149.60,337.60 150.20,337.60 150.80,337.60 151.40,337.60 152.00,337.60 152.60,337.60 153.20,337.60 153.80,337.60 154.40,337.60 155.00,337.60 155.60,337.60 156.20,337.60 156.80,337.60 157.40,337.60 158.00,337.60 158.60,337.60 159.20,337.60 159.80,337.60 160.40,337.60 161.00,337.60 161.60,337.60 162.20,337.60 162.80,337.60 163.40,337.60 164.00,337.60 164.60,337.60 165.20,337.60 165.80,337.60 166.40,337.60 167.00,337.60 167.60,337.60 168.20,337.60 168.80,337.60 169.40,337.60 170.00,337.60 170.60,337.60 171.20,337.60 171.80,337.60 172.40,337.60 173.00,337.60 173.60,337.60 174.20,337.60 174.80,337.60 175.40,337.60 176.00,337.60 176.60,337.60 177.20,337.60 177.80,337.60 178.40,337.60 179.00,337.60 179.60,337.60 180.20,337.60 180.80,337.60 181.40,337.60 182.00,337.60 182.60,337.60 183.20,337.60 183.80,337.60 184.40,337.60 185.00,337.60 185.60,337.60 186.20,337.60 186.80,337.60 187.40,337.60 188.00,337.60 188.60,337.60 189.20,337.60 189.80,337.60 190.40,337.60 191.00,337.60 191.60,337.60 192.20,337.60 192.80,337.60 193.40,337.60 194.00,337.60 194.60,337.60 195.20,337.60 195.80,337.60 196.40,337.60 197.00,337.60 197.60,337.60 198.20,337.60 198.80,337.60 199.40,337.60 200.00,337.60 200.60,337.60 201.20,337.60 201.80,337.60 202.40,337.60 203.00,337.60 203.60,337.60 204.20,337.60 204.80,337.60 205.40,337.60 206.00,337.60 206.60,337.60 207.20,337.60 207.80,337.60 208.40,337.60 209.00,337.60 209.60,337.60 210.20,337.60 210.80,337.60 211.40,337.60 212.00,337.60 212.60,337.60 213.20,337.60 213.80,337.60 214.40,337.60 215.00,337.60 215.60,337.60 216.20,337.60 216.80,337.60 217.40,337.60 218.00,337.60 218.60,337.60 219.20,337.60 219.80,337.60 220.40,337.60 221.00,337.60 221.60,337.60 222.20,337.60 222.80,337.60 223.40,337.60 224.00,337.60 224.60,337.60 225.20,337.60 225.80,337.60 226.40,337.60 227.00,337.60 227.60,337.60 228.20,337.60 228.80,337.60 229.40,337.60 230.00,337.60 230.60,337.60 231.20,337.60 231.80,337.60 232.40,337.60 233.00,337.60 233.60,337.60 234.20,337.60 234.80,337.60 235.40,337.60 236.00,337.60 236.60,337.60 237.20,337.60 237.80,337.60 238.40,337.60 239.00,337.60 239.60,337.60 240.20,337.60 240.80,337.60 241.40,337.60 242.00,337.60 242.60,337.60 243.20,337.60 243.80,337.60 244.40,337.60 245.00,337.60 245.60,337.60 246.20,337.60 246.80,337.60 247.40,337.60 248.00,337.60 248.60,337.60 249.20,337.60 249.80,337.60 250.40,337.60 251.00,337.60 251.60,337.60 252.20,337.60 252.80,337.60 253.40,337.60 254.00,337.60 254.60,337.60 255.20,337.60 255.80,337.60 256.40,337.60 257.00,337.60 257.60,337.60 258.20,337.60 258.80,337.60 259.40,337.60 260.00,337.60 260.60,337.60 261.20,337.60 261.80,337.60 262.40,337.60 263.00,337.60 263.60,337.60 264.20,337.60 264.80,337.60 265.40,337.60 266.00,337.60 266.60,337.60 267.20,337.60 267.80,337.60 268.40,337.60 269.00,337.60 269.60,337.60 270.20,337.60 270.80,337.60 271.40,337.60 272.00,337.60 272.60,337.60 273.20,337.60 273.80,337.60 274.40,337.60 275.00,337.60 275.60,337.60 276.20,337.60 276.80,337.60 277.40,337.60 278.00,337.60 278.60,337.60 279.20,337.60 279.80,337.60 280.40,337.60 281.00,337.60 281.60,337.60 282.20,337.60 282.80,337.60 283.40,337.60 284.00,337.60 284.60,337.60" fill="none" stroke="#303040" stroke-width="1.2" stroke-linejoin="round"/>
<polyline points="203.00,337.60 203.60,337.74 204.20,337.88 204.80,338.02 205.40,338.16 206.00,338.30 206.60,338.63 207.20,338.96 207.80,339.29 208.40,339.74 209.00,340.26 209.60,340.77 210.20,341.29 210.80,341.80 211.40,342.38 212.00,342.96 212.60,343.53 213.20,344.11 213.80,344.61 214.40,345.03 215.00,345.45 215.60,345.87 216.20,346.29 216.80,346.66 217.40,346.98 218.00,347.30 218.60,347.62 219.20,347.94 219.80,348.23 220.40,348.49 221.00,348.74 221.60,349.00 222.20,349.26 222.80,349.43 223.40,349.59 224.00,349.75 224.60,349.91 225.20,350.06 225.80,350.22 226.40,350.38 227.00,350.54 227.60,350.69 228.20,350.82 228.80,350.90 229.40,350.97 230.00,351.04 230.60,351.11 231.20,351.19 231.80,351.26 232.40,351.33 233.00,351.40 233.60,351.48 234.20,351.50 234.80,351.50 235.40,351.50 236.00,351.50 236.60,351.50 237.20,351.50 237.80,351.50 238.40,351.50 239.00,351.50 239.60,351.50 240.20,351.50 240.80,351.50 241.40,351.50 242.00,351.50 242.60,351.50 243.20,351.50 243.80,351.50 244.40,351.50 245.00,351.50 245.60,351.50 246.20,351.50 246.80,351.50 247.40,351.50 248.00,351.50 248.60,351.37 249.20,351.25 249.80,351.12 250.40,350.99 251.00,350.86 251.60,350.74 252.20,350.61 252.80,350.48 253.40,350.35 254.00,350.23 254.60,350.10 255.20,349.97 255.80,349.84 256.40,349.75 257.00,349.67 257.60,349.59 258.20,349.52 258.80,349.44 259.40,349.36 260.00,349.29 260.60,349.21 261.20,349.13 261.80,349.05 262.40,348.98 263.00,348.90 263.60,348.82 264.20,348.75 264.80,348.67 265.40,348.59 266.00,348.51 266.60,348.44 267.20,348.36 267.80,348.28 268.40,348.21 269.00,348.13 269.60,348.05 270.20,347.98 270.80,347.92 271.40,347.86 272.00,347.80 272.60,347.74 273.20,347.68 273.80,347.62 274.40,347.56 275.00,347.50 275.60,347.44 276.20,347.38 276.80,347.32 277.40,347.26 278.00,347.20 278.60,347.14 279.20,347.08 279.80,347.02 280.40,346.96 281.00,346.90 281.60,346.84 282.20,346.78 282.80,346.72 283.40,346.66 284.00,346.60 284.60,346.54" fill="none" stroke="#6e5aae" stroke-width="1.25" stroke-linejoin="round"/>
<polyline points="126.60,337.60 127.20,338.63 127.80,339.66 128.40,342.06 129.00,345.15 129.60,348.38 130.20,351.73 130.80,355.09 131.40,358.44 132.00,359.97 132.60,361.14 133.20,361.37 133.80,362.70 134.40,364.69 135.00,365.63 135.60,367.24 136.20,367.99 136.80,368.43 137.40,367.69 138.00,368.44 138.60,367.27 139.20,367.46 139.80,368.54 140.40,368.88 141.00,367.79 141.60,368.07 142.20,369.80 142.80,369.89 143.40,371.35 144.00,371.25 144.60,371.24 145.20,371.46 145.80,372.00 146.40,371.71 147.00,372.42 147.60,371.64 148.20,371.73 148.80,371.84 149.40,372.85 150.00,372.68 150.60,372.57 151.20,374.44 151.80,373.33 152.40,373.42 153.00,374.27 153.60,375.29 154.20,374.39 154.80,374.83 155.40,374.45 156.00,373.72 156.60,375.37 157.20,375.77 157.80,374.93 158.40,374.71 159.00,373.66 159.60,373.65 160.20,374.74 160.80,375.59 161.40,375.10 162.00,375.68 162.60,376.24 163.20,375.82 163.80,376.25 164.40,376.61 165.00,375.07 165.60,375.79 166.20,374.53 166.80,375.90 167.40,376.05 168.00,375.41 168.60,375.10 169.20,375.80 169.80,375.84 170.40,376.07 171.00,375.68 171.60,376.43 172.20,375.63 172.80,375.98 173.40,376.37 174.00,377.23 174.60,375.59 175.20,376.24 175.80,377.36 176.40,376.12 177.00,375.63 177.60,376.62 178.20,376.62 178.80,377.12 179.40,376.14 180.00,376.80 180.60,377.42 181.20,377.44 181.80,376.28 182.40,377.50 183.00,376.03 183.60,375.28 184.20,375.80 184.80,376.68 185.40,376.63 186.00,377.16 186.60,377.31 187.20,377.09 187.80,376.97 188.40,377.82 189.00,375.14 189.60,375.06 190.20,375.97 190.80,375.40 191.40,374.57 192.00,375.73 192.60,375.78 193.20,375.04 193.80,377.39 194.40,378.27 195.00,378.02 195.60,376.78 196.20,376.80 196.80,376.16 197.40,376.84 198.00,376.57 198.60,377.14 199.20,376.97 199.80,377.88 200.40,378.01 201.00,377.83 201.60,375.67 202.20,375.40 202.80,376.92 203.40,376.69 204.00,377.26 204.60,377.33 205.20,377.34 205.80,377.83 206.40,377.66 207.00,377.31 207.60,376.67 208.20,378.20 208.80,377.56 209.40,377.93 210.00,377.64 210.60,378.06 211.20,377.36 211.80,377.22 212.40,377.03 213.00,376.38 213.60,376.42 214.20,376.77 214.80,376.72 215.40,376.61 216.00,378.49 216.60,376.58 217.20,377.01 217.80,378.72 218.40,377.02 219.00,377.59 219.60,377.60 220.20,376.71 220.80,375.61 221.40,375.57 222.00,376.81 222.60,376.97 223.20,375.43 223.80,376.65 224.40,376.67 225.00,377.61 225.60,377.15 226.20,376.34 226.80,376.55 227.40,377.19 228.00,378.55 228.60,379.63 229.20,377.81 229.80,377.28 230.40,377.58 231.00,377.27 231.60,377.63 232.20,377.49 232.80,377.03 233.40,376.51 234.00,377.08" fill="none" stroke="#e8422f" stroke-width="1.25" stroke-linejoin="round"/>
<polyline points="151.80,337.60 152.40,340.08 153.00,342.56 153.60,345.05 154.20,347.36 154.80,349.36 155.40,351.35 156.00,353.35 156.60,355.34 157.20,357.34 157.80,358.68 158.40,359.70 159.00,360.71 159.60,361.73 160.20,362.62 160.80,364.06 161.40,365.03 162.00,366.59 162.60,365.91 163.20,366.51 163.80,367.47 164.40,367.72 165.00,367.26 165.60,368.68 166.20,369.12 166.80,369.47 167.40,370.04 168.00,370.35 168.60,369.84 169.20,371.63 169.80,370.64 170.40,370.01 171.00,371.66 171.60,372.92 172.20,372.43 172.80,373.73 173.40,373.96 174.00,372.49 174.60,371.58 175.20,372.74 175.80,374.42 176.40,373.66 177.00,373.25 177.60,373.71 178.20,374.66 178.80,374.99 179.40,375.62 180.00,375.61 180.60,374.57 181.20,374.72 181.80,374.42 182.40,374.93 183.00,374.37 183.60,374.67 184.20,376.53 184.80,375.79 185.40,376.20 186.00,377.29 186.60,376.37 187.20,375.64 187.80,375.57 188.40,375.39 189.00,376.30 189.60,375.98 190.20,376.88 190.80,375.88 191.40,375.63 192.00,375.78 192.60,376.42 193.20,376.50 193.80,376.98 194.40,376.09 195.00,376.63 195.60,377.54 196.20,376.55 196.80,376.93 197.40,377.60 198.00,376.99 198.60,375.96 199.20,375.49 199.80,377.70 200.40,377.03 201.00,376.91 201.60,376.10 202.20,376.99 202.80,376.27 203.40,375.53 204.00,374.90 204.60,375.31 205.20,374.83 205.80,374.55 206.40,373.72 207.00,374.19 207.60,374.41 208.20,373.65 208.80,374.23 209.40,374.51 210.00,373.79 210.60,373.32 211.20,373.34 211.80,373.85 212.40,372.52 213.00,372.80 213.60,372.82 214.20,372.99 214.80,372.64 215.40,372.24 216.00,373.68 216.60,372.58 217.20,371.29 217.80,371.35 218.40,371.96 219.00,372.01 219.60,370.98 220.20,371.58 220.80,370.47 221.40,370.63 222.00,371.72 222.60,372.08 223.20,370.90 223.80,370.58 224.40,371.08 225.00,369.86 225.60,370.24 226.20,370.35 226.80,370.59 227.40,370.02 228.00,369.54 228.60,369.64 229.20,368.78 229.80,369.42 230.40,368.57 231.00,368.14 231.60,368.36 232.20,368.64 232.80,368.84 233.40,368.33 234.00,368.69 234.60,368.66 235.20,367.67 235.80,367.01 236.40,367.78 237.00,367.09 237.60,365.43 238.20,365.75 238.80,366.19 239.40,365.26 240.00,365.13 240.60,364.63 241.20,365.58 241.80,365.54 242.40,365.43 243.00,365.75 243.60,364.58 244.20,364.47 244.80,365.26 245.40,363.53 246.00,363.87 246.60,362.84 247.20,363.57 247.80,364.50 248.40,363.23 249.00,362.53 249.60,363.76 250.20,362.16 250.80,361.83 251.40,361.75 252.00,360.89 252.60,362.07 253.20,362.38 253.80,361.58" fill="none" stroke="#3aa03a" stroke-width="1.25" stroke-linejoin="round"/>
<polyline points="176.60,337.60 177.20,339.21 177.80,340.81 178.40,342.42 179.00,344.02 179.60,345.63 180.20,347.11 180.80,348.32 181.40,349.54 182.00,350.76 182.60,351.98 183.20,353.20 183.80,353.99 184.40,354.70 185.00,355.40 185.60,356.11 186.20,356.82 186.80,357.53 187.40,358.23 188.00,358.94 188.60,359.65 189.20,360.36 189.80,361.06 190.40,361.50 191.00,361.80 191.60,362.10 192.20,362.40 192.80,362.70 193.40,363.00 194.00,363.30 194.60,363.60 195.20,363.44 195.80,363.43 196.40,364.04 197.00,364.28 197.60,365.19 198.20,365.49 198.80,365.89 199.40,365.98 200.00,366.02 200.60,366.40 201.20,366.89 201.80,366.69 202.40,366.54 203.00,366.45 203.60,366.63 204.20,366.67 204.80,367.29 205.40,366.39 206.00,366.22 206.60,366.54 207.20,366.84 207.80,366.50 208.40,366.17 209.00,366.18 209.60,366.42 210.20,366.74 210.80,366.19 211.40,366.29 212.00,366.21 212.60,366.47 213.20,366.40 213.80,366.01 214.40,367.02 215.00,366.46 215.60,365.99 216.20,365.82 216.80,366.01 217.40,366.17 218.00,366.31 218.60,366.15 219.20,366.09 219.80,365.43 220.40,365.47 221.00,365.42 221.60,365.72 222.20,365.66 222.80,365.00 223.40,365.26 224.00,365.58 224.60,365.45 225.20,364.77 225.80,365.08 226.40,364.96 227.00,364.74 227.60,365.18 228.20,364.24 228.80,364.25 229.40,364.44 230.00,364.28 230.60,364.13 231.20,364.53 231.80,364.52 232.40,364.24 233.00,364.04 233.60,363.48 234.20,363.16 234.80,363.90 235.40,363.18 236.00,363.78 236.60,363.11 237.20,362.92 237.80,362.78 238.40,362.92 239.00,362.56 239.60,363.07 240.20,362.65 240.80,362.26 241.40,361.93 242.00,362.04 242.60,362.03 243.20,362.49 243.80,362.00 244.40,361.17 245.00,361.66 245.60,360.70 246.20,361.41 246.80,360.54 247.40,360.89 248.00,361.14 248.60,360.72 249.20,360.34 249.80,360.73 250.40,359.76 251.00,359.75 251.60,360.49 252.20,359.88 252.80,360.03 253.40,360.13 254.00,359.77 254.60,359.71 255.20,359.58 255.80,359.56 256.40,359.78 257.00,359.60 257.60,359.30 258.20,359.24 258.80,358.65 259.40,358.33 260.00,358.25 260.60,358.81 261.20,359.01 261.80,358.26 262.40,357.42 263.00,357.74 263.60,358.07 264.20,357.96 264.80,357.83 265.40,358.01 266.00,357.77 266.60,356.99 267.20,357.24 267.80,356.93 268.40,357.14 269.00,357.50 269.60,357.58 270.20,357.03 270.80,356.42 271.40,356.34 272.00,356.43 272.60,355.92 273.20,356.07 273.80,356.28 274.40,356.24 275.00,355.77 275.60,355.88 276.20,356.06" fill="none" stroke="#2e2f8f" stroke-width="1.25" stroke-linejoin="round"/>
<text x="162.00" y="364.11" font-size="6.5" fill="#3aa03a" textLength="21" lengthAdjust="spacingAndGlyphs">5 &#956;g/ml</text>
<text x="129.30" y="383.31" font-size="6.5" fill="#e8422f" textLength="20" lengthAdjust="spacingAndGlyphs">Control</text>
<text x="187.40" y="354.31" font-size="6.5" fill="#2e2f8f" textLength="24.3" lengthAdjust="spacingAndGlyphs">10 &#956;g/ml</text>
<text x="254.30" y="334.51" font-size="6.5" fill="#222" textLength="24.7" lengthAdjust="spacingAndGlyphs">40 &#956;g/ml</text>
<text x="270.20" y="346.41" font-size="6.5" fill="#6e5aae" textLength="24" lengthAdjust="spacingAndGlyphs">20 &#956;g/ml</text>
<text x="31.40" y="368.71" font-size="6.5" fill="#333" textLength="15.6" lengthAdjust="spacingAndGlyphs">R6H8</text>
<text x="34.00" y="376.01" font-size="6.5" fill="#333" textLength="10.2" lengthAdjust="spacingAndGlyphs">Fab</text>
<text x="149.60" y="434.61" font-size="8.2" fill="#222" font-weight="bold" textLength="9.4" lengthAdjust="spacingAndGlyphs">Min</text>
<text x="263.80" y="16.48" font-size="11.5" fill="#111" font-weight="bold">D</text>
<line x1="292.70" y1="25.00" x2="292.70" y2="118.60" stroke="#333" stroke-width="1.3"/>
<line x1="290.30" y1="117.90" x2="499.20" y2="117.90" stroke="#333" stroke-width="1.3"/>
<line x1="289.60" y1="117.90" x2="292.70" y2="117.90" stroke="#333" stroke-width="1"/>
<text x="286.60" y="120.14" font-size="6.3" fill="#444" text-anchor="end">0</text>
<line x1="289.60" y1="87.10" x2="292.70" y2="87.10" stroke="#333" stroke-width="1"/>
<text x="286.60" y="89.34" font-size="6.3" fill="#444" text-anchor="end">50</text>
<line x1="289.60" y1="56.30" x2="292.70" y2="56.30" stroke="#333" stroke-width="1"/>
<text x="286.60" y="58.54" font-size="6.3" fill="#444" text-anchor="end">100</text>
<line x1="289.60" y1="25.50" x2="292.70" y2="25.50" stroke="#333" stroke-width="1"/>
<text x="286.60" y="27.74" font-size="6.3" fill="#444" text-anchor="end">150</text>
<text x="0" y="2.56" font-size="7.2" fill="#222" text-anchor="middle" font-weight="bold" textLength="56" lengthAdjust="spacingAndGlyphs" transform="translate(267.4,72.6) rotate(-90)">P-selectin binding (%)</text>
<rect x="316.80" y="61.84" width="13.5" height="56.06" fill="#8f86c4"/>
<rect x="337.35" y="72.32" width="13.5" height="45.58" fill="#f28c00"/>
<rect x="357.90" y="60.92" width="13.5" height="56.98" fill="#f28c00"/>
<rect x="378.45" y="60.61" width="13.5" height="57.29" fill="#f28c00"/>
<rect x="399.00" y="60.61" width="13.5" height="57.29" fill="#f28c00"/>
<rect x="419.55" y="60.92" width="13.5" height="56.98" fill="#f9c98e"/>
<rect x="440.10" y="59.38" width="13.5" height="58.52" fill="#f9c98e"/>
<rect x="460.65" y="60.92" width="13.5" height="56.98" fill="#f9c98e"/>
<rect x="481.20" y="60.92" width="13.5" height="56.98" fill="#f9c98e"/>
<line x1="323.55" y1="58.00" x2="323.55" y2="65.70" stroke="#111" stroke-width="0.9"/>
<line x1="320.55" y1="58.00" x2="326.55" y2="58.00" stroke="#111" stroke-width="0.9"/>
<line x1="320.55" y1="65.70" x2="326.55" y2="65.70" stroke="#111" stroke-width="0.9"/>
<circle cx="319.95" cy="59.00" r="1.35" fill="#111"/>
<circle cx="323.55" cy="58.50" r="1.35" fill="#111"/>
<circle cx="326.75" cy="59.00" r="1.35" fill="#111"/>
<circle cx="323.55" cy="68.00" r="1.35" fill="#111"/>
<line x1="344.10" y1="55.50" x2="344.10" y2="88.20" stroke="#111" stroke-width="0.9"/>
<line x1="341.10" y1="55.50" x2="347.10" y2="55.50" stroke="#111" stroke-width="0.9"/>
<line x1="341.10" y1="88.20" x2="347.10" y2="88.20" stroke="#111" stroke-width="0.9"/>
<circle cx="342.30" cy="59.40" r="1.35" fill="#111"/>
<circle cx="345.60" cy="58.50" r="1.35" fill="#111"/>
<circle cx="344.10" cy="76.00" r="1.35" fill="#111"/>
<circle cx="344.10" cy="93.30" r="1.35" fill="#111"/>
<line x1="364.65" y1="54.00" x2="364.65" y2="68.00" stroke="#111" stroke-width="0.9"/>
<line x1="361.65" y1="54.00" x2="367.65" y2="54.00" stroke="#111" stroke-width="0.9"/>
<line x1="361.65" y1="68.00" x2="367.65" y2="68.00" stroke="#111" stroke-width="0.9"/>
<circle cx="361.35" cy="57.60" r="1.35" fill="#111"/>
<circle cx="364.95" cy="57.30" r="1.35" fill="#111"/>
<circle cx="368.15" cy="57.30" r="1.35" fill="#111"/>
<circle cx="364.65" cy="71.70" r="1.35" fill="#111"/>
<line x1="385.20" y1="55.60" x2="385.20" y2="67.50" stroke="#111" stroke-width="0.9"/>
<line x1="382.20" y1="55.60" x2="388.20" y2="55.60" stroke="#111" stroke-width="0.9"/>
<line x1="382.20" y1="67.50" x2="388.20" y2="67.50" stroke="#111" stroke-width="0.9"/>
<circle cx="383.10" cy="57.00" r="1.35" fill="#111"/>
<circle cx="387.30" cy="57.00" r="1.35" fill="#111"/>
<circle cx="385.20" cy="67.30" r="1.35" fill="#111"/>
<line x1="405.75" y1="55.60" x2="405.75" y2="67.50" stroke="#111" stroke-width="0.9"/>
<line x1="402.75" y1="55.60" x2="408.75" y2="55.60" stroke="#111" stroke-width="0.9"/>
<line x1="402.75" y1="67.50" x2="408.75" y2="67.50" stroke="#111" stroke-width="0.9"/>
<circle cx="403.65" cy="57.00" r="1.35" fill="#111"/>
<circle cx="407.85" cy="57.00" r="1.35" fill="#111"/>
<circle cx="405.75" cy="67.30" r="1.35" fill="#111"/>
<line x1="426.30" y1="55.80" x2="426.30" y2="67.30" stroke="#111" stroke-width="0.9"/>
<line x1="423.30" y1="55.80" x2="429.30" y2="55.80" stroke="#111" stroke-width="0.9"/>
<line x1="423.30" y1="67.30" x2="429.30" y2="67.30" stroke="#111" stroke-width="0.9"/>
<circle cx="423.00" cy="57.00" r="1.35" fill="#111"/>
<circle cx="426.30" cy="59.60" r="1.35" fill="#111"/>
<circle cx="429.60" cy="57.00" r="1.35" fill="#111"/>
<circle cx="426.30" cy="70.40" r="1.35" fill="#111"/>
<line x1="446.85" y1="54.50" x2="446.85" y2="63.20" stroke="#111" stroke-width="0.9"/>
<line x1="443.85" y1="54.50" x2="449.85" y2="54.50" stroke="#111" stroke-width="0.9"/>
<line x1="443.85" y1="63.20" x2="449.85" y2="63.20" stroke="#111" stroke-width="0.9"/>
<circle cx="443.05" cy="56.00" r="1.35" fill="#111"/>
<circle cx="446.85" cy="55.50" r="1.35" fill="#111"/>
<circle cx="450.65" cy="56.00" r="1.35" fill="#111"/>
<circle cx="446.85" cy="66.20" r="1.35" fill="#111"/>
<line x1="467.40" y1="54.20" x2="467.40" y2="68.00" stroke="#111" stroke-width="0.9"/>
<line x1="464.40" y1="54.20" x2="470.40" y2="54.20" stroke="#111" stroke-width="0.9"/>
<line x1="464.40" y1="68.00" x2="470.40" y2="68.00" stroke="#111" stroke-width="0.9"/>
<circle cx="465.30" cy="56.70" r="1.35" fill="#111"/>
<circle cx="469.50" cy="56.70" r="1.35" fill="#111"/>
<circle cx="467.40" cy="68.40" r="1.35" fill="#111"/>
<line x1="487.95" y1="54.20" x2="487.95" y2="68.00" stroke="#111" stroke-width="0.9"/>
<line x1="484.95" y1="54.20" x2="490.95" y2="54.20" stroke="#111" stroke-width="0.9"/>
<line x1="484.95" y1="68.00" x2="490.95" y2="68.00" stroke="#111" stroke-width="0.9"/>
<circle cx="485.85" cy="56.70" r="1.35" fill="#111"/>
<circle cx="490.05" cy="56.70" r="1.35" fill="#111"/>
<circle cx="487.95" cy="68.40" r="1.35" fill="#111"/>
<circle cx="297.50" cy="114.8" r="1.3" fill="#111"/>
<circle cx="301.00" cy="114.8" r="1.3" fill="#111"/>
<circle cx="304.50" cy="114.8" r="1.3" fill="#111"/>
<circle cx="308.00" cy="114.8" r="1.3" fill="#111"/>
<line x1="303.00" y1="117.90" x2="303.00" y2="121.00" stroke="#333" stroke-width="0.9"/>
<text x="303.00" y="129.84" font-size="6.3" fill="#333" text-anchor="middle" textLength="20" lengthAdjust="spacingAndGlyphs">Control</text>
<line x1="323.55" y1="117.90" x2="323.55" y2="121.00" stroke="#333" stroke-width="0.9"/>
<text x="323.55" y="129.84" font-size="6.3" fill="#333" text-anchor="middle" textLength="13" lengthAdjust="spacingAndGlyphs">+ T6</text>
<line x1="344.10" y1="117.90" x2="344.10" y2="121.00" stroke="#333" stroke-width="0.9"/>
<text x="344.10" y="129.84" font-size="6.3" fill="#333" text-anchor="middle">5</text>
<line x1="364.65" y1="117.90" x2="364.65" y2="121.00" stroke="#333" stroke-width="0.9"/>
<text x="364.65" y="129.84" font-size="6.3" fill="#333" text-anchor="middle">10</text>
<line x1="385.20" y1="117.90" x2="385.20" y2="121.00" stroke="#333" stroke-width="0.9"/>
<text x="385.20" y="129.84" font-size="6.3" fill="#333" text-anchor="middle">20</text>
<line x1="405.75" y1="117.90" x2="405.75" y2="121.00" stroke="#333" stroke-width="0.9"/>
<text x="405.75" y="129.84" font-size="6.3" fill="#333" text-anchor="middle">40</text>
<line x1="426.30" y1="117.90" x2="426.30" y2="121.00" stroke="#333" stroke-width="0.9"/>
<text x="426.30" y="129.84" font-size="6.3" fill="#333" text-anchor="middle">5</text>
<line x1="446.85" y1="117.90" x2="446.85" y2="121.00" stroke="#333" stroke-width="0.9"/>
<text x="446.85" y="129.84" font-size="6.3" fill="#333" text-anchor="middle">10</text>
<line x1="467.40" y1="117.90" x2="467.40" y2="121.00" stroke="#333" stroke-width="0.9"/>
<text x="467.40" y="129.84" font-size="6.3" fill="#333" text-anchor="middle">20</text>
<line x1="487.95" y1="117.90" x2="487.95" y2="121.00" stroke="#333" stroke-width="0.9"/>
<text x="487.95" y="129.84" font-size="6.3" fill="#333" text-anchor="middle">40</text>
<line x1="341.50" y1="134.20" x2="495.00" y2="134.20" stroke="#444" stroke-width="1.2"/>
<line x1="420.30" y1="48.90" x2="492.80" y2="48.90" stroke="#555" stroke-width="1.3"/>
<text x="441.00" y="44.84" font-size="6.3" fill="#333" textLength="31" lengthAdjust="spacingAndGlyphs">T6 (25 &#956;M)</text>
<text x="400.00" y="144.49" font-size="7" fill="#222" font-weight="bold" textLength="37.2" lengthAdjust="spacingAndGlyphs">R6H8 (&#956;g/ml)</text>
<text x="301.60" y="162.88" font-size="11.5" fill="#111" font-weight="bold">E</text>
<text x="377.20" y="173.25" font-size="8.3" fill="#222" textLength="52.8" lengthAdjust="spacingAndGlyphs">Alexa488-AP5</text>
<line x1="330.40" y1="178.50" x2="330.40" y2="293.00" stroke="#222" stroke-width="1.2"/>
<line x1="329.80" y1="292.40" x2="477.00" y2="292.40" stroke="#222" stroke-width="1.2"/>
<line x1="327.30" y1="292.30" x2="330.40" y2="292.30" stroke="#222" stroke-width="1"/>
<text x="324.20" y="294.61" font-size="6.5" fill="#333" text-anchor="end">0</text>
<line x1="327.30" y1="264.60" x2="330.40" y2="264.60" stroke="#222" stroke-width="1"/>
<text x="324.20" y="266.91" font-size="6.5" fill="#333" text-anchor="end">100</text>
<line x1="327.30" y1="236.90" x2="330.40" y2="236.90" stroke="#222" stroke-width="1"/>
<text x="324.20" y="239.21" font-size="6.5" fill="#333" text-anchor="end">200</text>
<line x1="327.30" y1="209.20" x2="330.40" y2="209.20" stroke="#222" stroke-width="1"/>
<text x="324.20" y="211.51" font-size="6.5" fill="#333" text-anchor="end">300</text>
<line x1="327.30" y1="181.50" x2="330.40" y2="181.50" stroke="#222" stroke-width="1"/>
<text x="324.20" y="183.81" font-size="6.5" fill="#333" text-anchor="end">400</text>
<line x1="330.40" y1="292.40" x2="330.40" y2="295.80" stroke="#222" stroke-width="0.9"/>
<line x1="344.55" y1="292.40" x2="344.55" y2="295.00" stroke="#222" stroke-width="0.9"/>
<line x1="352.82" y1="292.40" x2="352.82" y2="295.00" stroke="#222" stroke-width="0.9"/>
<line x1="358.70" y1="292.40" x2="358.70" y2="295.00" stroke="#222" stroke-width="0.9"/>
<line x1="363.25" y1="292.40" x2="363.25" y2="295.00" stroke="#222" stroke-width="0.9"/>
<line x1="366.97" y1="292.40" x2="366.97" y2="295.00" stroke="#222" stroke-width="0.9"/>
<line x1="370.12" y1="292.40" x2="370.12" y2="295.00" stroke="#222" stroke-width="0.9"/>
<line x1="372.85" y1="292.40" x2="372.85" y2="295.00" stroke="#222" stroke-width="0.9"/>
<line x1="375.25" y1="292.40" x2="375.25" y2="295.00" stroke="#222" stroke-width="0.9"/>
<line x1="377.40" y1="292.40" x2="377.40" y2="295.80" stroke="#222" stroke-width="0.9"/>
<line x1="391.55" y1="292.40" x2="391.55" y2="295.00" stroke="#222" stroke-width="0.9"/>
<line x1="399.82" y1="292.40" x2="399.82" y2="295.00" stroke="#222" stroke-width="0.9"/>
<line x1="405.70" y1="292.40" x2="405.70" y2="295.00" stroke="#222" stroke-width="0.9"/>
<line x1="410.25" y1="292.40" x2="410.25" y2="295.00" stroke="#222" stroke-width="0.9"/>
<line x1="413.97" y1="292.40" x2="413.97" y2="295.00" stroke="#222" stroke-width="0.9"/>
<line x1="417.12" y1="292.40" x2="417.12" y2="295.00" stroke="#222" stroke-width="0.9"/>
<line x1="419.85" y1="292.40" x2="419.85" y2="295.00" stroke="#222" stroke-width="0.9"/>
<line x1="422.25" y1="292.40" x2="422.25" y2="295.00" stroke="#222" stroke-width="0.9"/>
<line x1="424.40" y1="292.40" x2="424.40" y2="295.80" stroke="#222" stroke-width="0.9"/>
<line x1="438.55" y1="292.40" x2="438.55" y2="295.00" stroke="#222" stroke-width="0.9"/>
<line x1="446.82" y1="292.40" x2="446.82" y2="295.00" stroke="#222" stroke-width="0.9"/>
<line x1="452.70" y1="292.40" x2="452.70" y2="295.00" stroke="#222" stroke-width="0.9"/>
<line x1="457.25" y1="292.40" x2="457.25" y2="295.00" stroke="#222" stroke-width="0.9"/>
<line x1="460.97" y1="292.40" x2="460.97" y2="295.00" stroke="#222" stroke-width="0.9"/>
<line x1="464.12" y1="292.40" x2="464.12" y2="295.00" stroke="#222" stroke-width="0.9"/>
<line x1="466.85" y1="292.40" x2="466.85" y2="295.00" stroke="#222" stroke-width="0.9"/>
<line x1="469.25" y1="292.40" x2="469.25" y2="295.00" stroke="#222" stroke-width="0.9"/>
<line x1="471.40" y1="292.40" x2="471.40" y2="295.60" stroke="#222" stroke-width="0.8"/>
<text x="326.60" y="303.8" font-size="6.2" fill="#333">10<tspan font-size="4.3" dy="-2.6">2</tspan></text>
<text x="373.60" y="303.8" font-size="6.2" fill="#333">10<tspan font-size="4.3" dy="-2.6">3</tspan></text>
<text x="420.60" y="303.8" font-size="6.2" fill="#333">10<tspan font-size="4.3" dy="-2.6">4</tspan></text>
<text x="467.60" y="303.8" font-size="6.2" fill="#333">10<tspan font-size="4.3" dy="-2.6">5</tspan></text>
<text x="0" y="2.59" font-size="7.3" fill="#222" text-anchor="middle" textLength="15.4" lengthAdjust="spacingAndGlyphs" transform="translate(305.6,235.3) rotate(-90)" font-weight="bold">Count</text>
<text x="395.20" y="315.96" font-size="7.2" fill="#222" textLength="18" lengthAdjust="spacingAndGlyphs" font-weight="bold">FITC-H</text>
<polyline points="332.00,291.60 332.70,291.41 333.40,291.23 334.10,291.04 334.80,290.85 335.50,290.67 336.20,290.59 336.90,290.35 337.60,290.20 338.30,289.55 339.00,290.08 339.70,289.69 340.40,289.59 341.10,289.20 341.80,288.95 342.50,289.13 343.20,289.17 343.90,288.79 344.60,288.72 345.30,288.83 346.00,288.24 346.70,287.96 347.40,288.39 348.10,287.92 348.80,287.31 349.50,287.50 350.20,287.52 350.90,287.10 351.60,286.90 352.30,286.92 353.00,286.08 353.70,284.36 354.40,283.14 355.10,282.78 355.80,282.06 356.50,280.66 357.20,280.06 357.90,278.98 358.60,276.73 359.30,274.88 360.00,274.26 360.70,273.15 361.40,271.10 362.10,266.95 362.80,264.63 363.50,261.92 364.20,258.86 364.90,258.17 365.60,256.23 366.30,252.56 367.00,251.73 367.70,248.74 368.40,245.53 369.10,242.60 369.80,239.88 370.50,234.57 371.20,233.33 371.90,229.97 372.60,223.77 373.30,222.52 374.00,219.24 374.70,216.87 375.40,212.04 376.10,210.10 376.80,208.28 377.50,205.79 378.20,209.00 378.90,210.01 379.60,210.22 380.30,208.90 381.00,211.08 381.70,211.85 382.40,211.96 383.10,213.90 383.80,215.96 384.50,216.88 385.20,216.24 385.90,222.46 386.60,225.53 387.30,227.31 388.00,229.56 388.70,234.73 389.40,235.53 390.10,240.69 390.80,244.68 391.50,245.01 392.20,248.77 392.90,251.53 393.60,256.50 394.30,261.44 395.00,264.48 395.70,264.36 396.40,267.99 397.10,271.89 397.80,274.99 398.50,276.44 399.20,277.40 399.90,279.70 400.60,281.43 401.30,282.62 402.00,283.54 402.70,285.13 403.40,286.24 404.10,287.06 404.80,287.50 405.50,287.79 406.20,288.76 406.90,289.86 407.60,290.09 408.30,290.28 409.00,290.98 409.70,291.14 410.40,291.48 411.10,291.25 411.80,291.19 412.50,291.27 413.20,291.86 413.90,292.15" fill="none" stroke="#6b2f8e" stroke-width="1.1875" stroke-linejoin="round"/>
<polyline points="340.00,291.80 340.70,291.74 341.40,291.69 342.10,291.63 342.80,291.58 343.50,291.52 344.20,291.46 344.90,291.41 345.60,291.31 346.30,291.56 347.00,291.32 347.70,291.21 348.40,290.61 349.10,290.93 349.80,290.86 350.50,291.47 351.20,291.27 351.90,291.04 352.60,290.61 353.30,290.66 354.00,290.53 354.70,289.99 355.40,289.74 356.10,289.71 356.80,289.40 357.50,289.24 358.20,289.11 358.90,288.60 359.60,288.60 360.30,287.29 361.00,287.75 361.70,286.73 362.40,286.00 363.10,285.16 363.80,285.37 364.50,285.08 365.20,284.81 365.90,283.82 366.60,283.77 367.30,284.36 368.00,282.62 368.70,281.06 369.40,281.34 370.10,280.09 370.80,279.88 371.50,279.16 372.20,277.10 372.90,274.65 373.60,275.06 374.30,275.12 375.00,273.37 375.70,273.16 376.40,272.74 377.10,270.69 377.80,271.87 378.50,271.98 379.20,270.66 379.90,269.84 380.60,269.33 381.30,269.52 382.00,266.12 382.70,264.60 383.40,264.27 384.10,261.48 384.80,259.68 385.50,260.28 386.20,261.83 386.90,261.30 387.60,258.01 388.30,257.17 389.00,259.34 389.70,259.87 390.40,260.14 391.10,261.26 391.80,261.92 392.50,260.73 393.20,260.47 393.90,257.98 394.60,257.81 395.30,260.15 396.00,261.34 396.70,261.34 397.40,261.03 398.10,261.10 398.80,260.16 399.50,256.30 400.20,257.24 400.90,259.30 401.60,258.93 402.30,256.26 403.00,258.96 403.70,257.09 404.40,256.74 405.10,257.50 405.80,257.40 406.50,254.45 407.20,256.87 407.90,255.48 408.60,253.47 409.30,252.85 410.00,249.91 410.70,251.64 411.40,252.76 412.10,251.16 412.80,251.02 413.50,251.02 414.20,251.29 414.90,252.26 415.60,250.28 416.30,249.35 417.00,250.85 417.70,252.57 418.40,248.74 419.10,247.98 419.80,244.23 420.50,247.14 421.20,245.93 421.90,245.00 422.60,240.81 423.30,238.91 424.00,243.58 424.70,244.84 425.40,242.89 426.10,243.32 426.80,247.78 427.50,250.36 428.20,255.83 428.90,253.42 429.60,254.31 430.30,256.19 431.00,255.85 431.70,258.88 432.40,263.85 433.10,263.30 433.80,263.26 434.50,264.09 435.20,267.78 435.90,269.59 436.60,270.22 437.30,270.99 438.00,273.20 438.70,274.70 439.40,275.23 440.10,277.07 440.80,276.07 441.50,277.91 442.20,280.38 442.90,281.80 443.60,282.50 444.30,284.88 445.00,286.48 445.70,286.97 446.40,287.68 447.10,288.78 447.80,289.01 448.50,288.80 449.20,289.71 449.90,290.65 450.60,290.44 451.30,290.95 452.00,290.95 452.70,290.85 453.40,290.95 454.10,291.34 454.80,291.54 455.50,291.53 456.20,291.27 456.90,291.56 457.60,291.81" fill="none" stroke="#3fb04a" stroke-width="1.1875" stroke-linejoin="round"/>
<polyline points="360.00,291.80 360.70,291.74 361.40,291.69 362.10,291.63 362.80,291.58 363.50,291.52 364.20,291.46 364.90,291.41 365.60,291.26 366.30,291.43 367.00,291.36 367.70,291.10 368.40,291.08 369.10,291.29 369.80,291.22 370.50,290.75 371.20,290.43 371.90,290.03 372.60,290.77 373.30,290.33 374.00,290.51 374.70,290.26 375.40,290.59 376.10,290.26 376.80,289.28 377.50,288.93 378.20,287.51 378.90,287.54 379.60,285.90 380.30,286.14 381.00,286.18 381.70,285.09 382.40,283.70 383.10,282.35 383.80,281.85 384.50,282.05 385.20,281.02 385.90,278.84 386.60,277.26 387.30,277.60 388.00,275.34 388.70,274.92 389.40,274.41 390.10,274.96 390.80,274.02 391.50,273.32 392.20,271.99 392.90,270.20 393.60,270.61 394.30,270.64 395.00,268.36 395.70,267.65 396.40,266.35 397.10,266.74 397.80,265.90 398.50,265.18 399.20,264.15 399.90,264.40 400.60,261.33 401.30,259.11 402.00,256.43 402.70,255.07 403.40,251.49 404.10,249.84 404.80,250.51 405.50,249.88 406.20,246.29 406.90,239.56 407.60,239.47 408.30,238.06 409.00,236.28 409.70,236.75 410.40,238.56 411.10,233.53 411.80,230.48 412.50,230.85 413.20,228.31 413.90,225.88 414.60,222.65 415.30,221.95 416.00,220.20 416.70,213.78 417.40,212.74 418.10,216.83 418.80,215.92 419.50,211.62 420.20,210.83 420.90,212.49 421.60,212.89 422.30,217.13 423.00,222.94 423.70,223.54 424.40,226.78 425.10,227.12 425.80,230.70 426.50,235.24 427.20,234.53 427.90,238.90 428.60,243.20 429.30,247.59 430.00,252.56 430.70,254.07 431.40,254.44 432.10,258.91 432.80,261.31 433.50,264.31 434.20,269.44 434.90,269.13 435.60,271.92 436.30,273.85 437.00,277.02 437.70,278.52 438.40,279.91 439.10,281.51 439.80,283.61 440.50,283.93 441.20,284.88 441.90,286.17 442.60,288.39 443.30,288.64 444.00,288.83 444.70,289.88 445.40,291.28 446.10,291.18 446.80,291.35 447.50,291.36 448.20,291.28 448.90,291.21 449.60,291.36 450.30,291.39 451.00,291.33 451.70,292.14" fill="none" stroke="#d9203a" stroke-width="1.1875" stroke-linejoin="round"/>
<polyline points="396.00,291.80 396.70,291.71 397.40,291.61 398.10,291.52 398.80,291.43 399.50,291.33 400.20,291.32 400.90,291.29 401.60,291.24 402.30,290.85 403.00,291.12 403.70,290.23 404.40,290.21 405.10,290.52 405.80,289.57 406.50,289.12 407.20,288.69 407.90,288.46 408.60,286.55 409.30,285.85 410.00,285.71 410.70,283.96 411.40,282.14 412.10,280.96 412.80,279.55 413.50,277.95 414.20,275.22 414.90,271.21 415.60,269.75 416.30,266.66 417.00,264.76 417.70,261.23 418.40,257.37 419.10,254.80 419.80,249.86 420.50,247.22 421.20,242.08 421.90,237.52 422.60,230.98 423.30,229.27 424.00,224.01 424.70,221.94 425.40,217.32 426.10,210.80 426.80,208.41 427.50,204.28 428.20,202.51 428.90,201.35 429.60,197.87 430.30,198.24 431.00,196.39 431.70,199.31 432.40,201.28 433.10,202.87 433.80,201.55 434.50,204.13 435.20,204.83 435.90,202.88 436.60,204.70 437.30,207.92 438.00,207.19 438.70,209.41 439.40,215.34 440.10,219.20 440.80,223.31 441.50,229.42 442.20,234.35 442.90,239.39 443.60,243.86 444.30,248.46 445.00,252.57 445.70,254.04 446.40,257.20 447.10,260.08 447.80,261.85 448.50,265.44 449.20,268.15 449.90,269.27 450.60,272.15 451.30,273.59 452.00,276.65 452.70,278.65 453.40,278.77 454.10,279.22 454.80,281.36 455.50,282.35 456.20,283.48 456.90,285.25 457.60,286.97 458.30,287.28 459.00,287.47 459.70,287.47 460.40,288.27 461.10,288.77 461.80,289.68 462.50,289.87 463.20,290.28 463.90,290.65 464.60,291.01 465.30,291.42 466.00,291.40 466.70,291.31 467.40,291.44 468.10,291.61 468.80,291.77 469.50,291.70 470.20,291.84 470.90,291.66 471.60,291.72" fill="none" stroke="#2a62a8" stroke-width="1.1875" stroke-linejoin="round"/>
<line x1="470.80" y1="181.50" x2="479.20" y2="181.50" stroke="#6b2f8e" stroke-width="1.2"/>
<text x="482.80" y="183.74" font-size="6.3" fill="#222" textLength="12.6" lengthAdjust="spacingAndGlyphs">PBS</text>
<line x1="470.80" y1="191.50" x2="479.20" y2="191.50" stroke="#d9203a" stroke-width="1.2"/>
<text x="482.80" y="193.74" font-size="6.3" fill="#222" textLength="15.2" lengthAdjust="spacingAndGlyphs">R6H8</text>
<line x1="470.80" y1="201.60" x2="479.20" y2="201.60" stroke="#3fb04a" stroke-width="1.2"/>
<text x="482.80" y="203.84" font-size="6.3" fill="#222" textLength="28.2" lengthAdjust="spacingAndGlyphs">R6H8 Fab</text>
<line x1="470.80" y1="211.50" x2="479.20" y2="211.50" stroke="#2a62a8" stroke-width="1.2"/>
<text x="482.80" y="213.74" font-size="6.3" fill="#222" textLength="30.2" lengthAdjust="spacingAndGlyphs">Eptifibatide</text>
</svg>
</body></html>
